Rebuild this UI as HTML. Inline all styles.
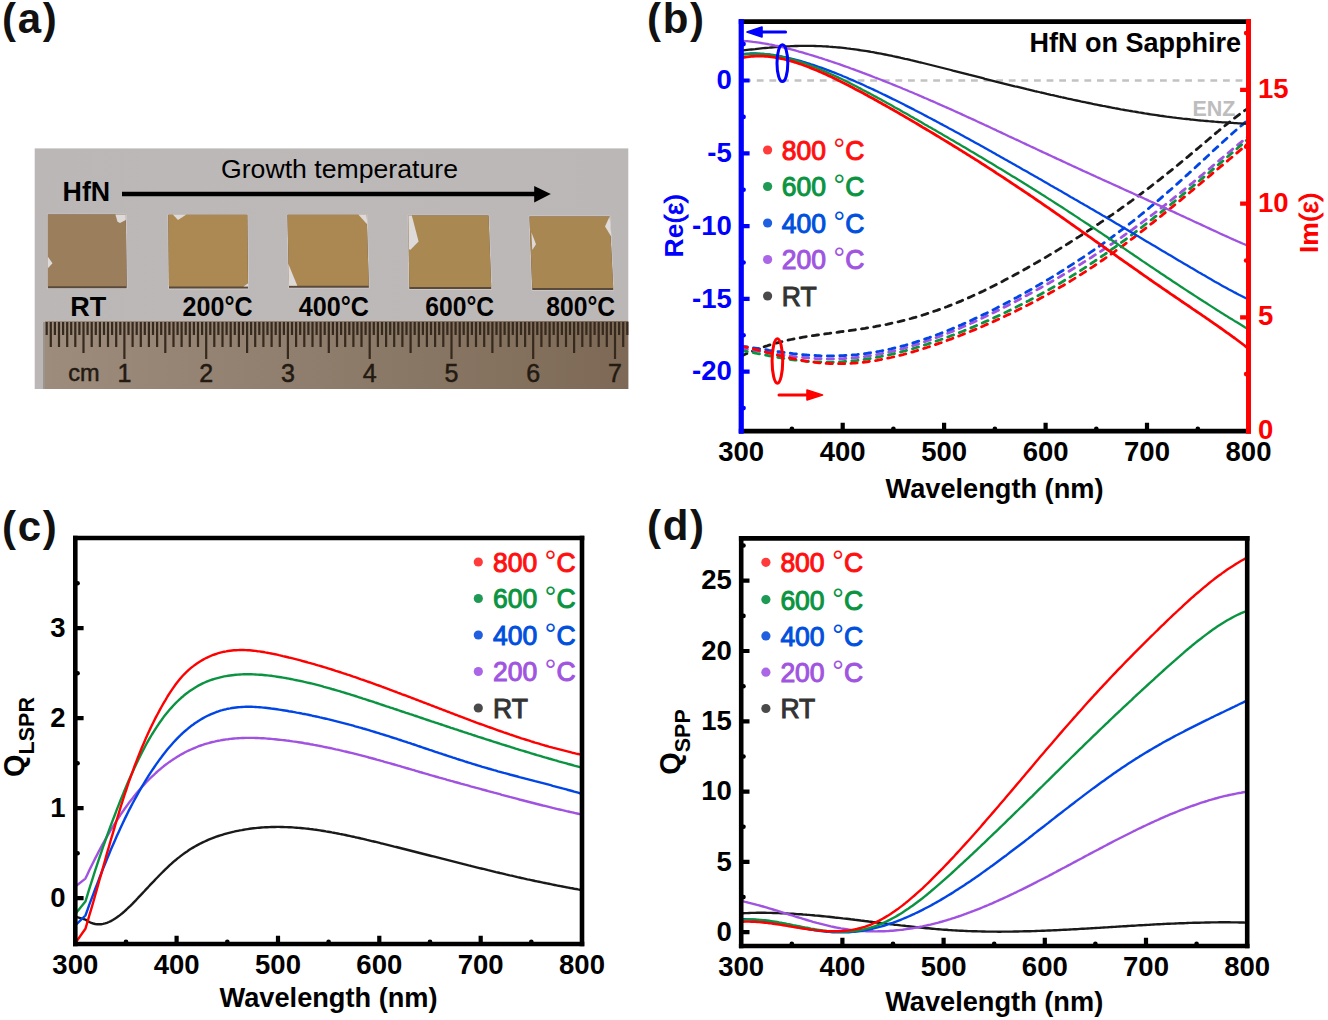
<!DOCTYPE html><html><head><meta charset="utf-8"><style>html,body{margin:0;padding:0;background:#fff;width:1328px;height:1020px;overflow:hidden}svg{display:block}text{font-family:"Liberation Sans",sans-serif}</style></head><body>
<svg width="1328" height="1020" viewBox="0 0 1328 1020">
<rect width="1328" height="1020" fill="#fff"/>
<text x="2" y="33" font-size="42" fill="#111" font-weight="bold" text-anchor="start" letter-spacing="1.7">(a)</text>
<text x="647" y="33" font-size="42" fill="#111" font-weight="bold" text-anchor="start" letter-spacing="1.7">(b)</text>
<text x="2" y="540.5" font-size="42" fill="#111" font-weight="bold" text-anchor="start" letter-spacing="1.7">(c)</text>
<text x="647" y="540" font-size="42" fill="#111" font-weight="bold" text-anchor="start" letter-spacing="1.7">(d)</text>
<defs><linearGradient id="bg" x1="0" y1="0" x2="1" y2="0"><stop offset="0" stop-color="#bcb7b7"/><stop offset="0.5" stop-color="#beb9b9"/><stop offset="1" stop-color="#bcb7b7"/></linearGradient>
<linearGradient id="rul" x1="0" y1="0" x2="1" y2="0"><stop offset="0" stop-color="#9d8c7c"/><stop offset="0.45" stop-color="#8f7e6d"/><stop offset="1" stop-color="#7d6955"/></linearGradient></defs>
<rect x="34.7" y="148.4" width="593.6" height="240.6" fill="url(#bg)"/>
<rect x="45" y="321" width="583.3" height="68" fill="url(#rul)"/>
<line x1="44" y1="322" x2="44" y2="389" stroke="#9b948f" stroke-width="2"/>
<path d="M46.7 322 V335 M50.8 322 V347 M54.9 322 V335 M59 322 V347 M63.1 322 V335 M67.2 322 V347 M71.2 322 V335 M75.3 322 V347 M79.4 322 V335 M83.5 322 V353 M87.6 322 V335 M91.7 322 V347 M95.8 322 V335 M99.9 322 V347 M104 322 V335 M108 322 V347 M112.1 322 V335 M116.2 322 V347 M120.3 322 V335 M124.4 322 V359 M128.5 322 V335 M132.6 322 V347 M136.7 322 V335 M140.8 322 V347 M144.8 322 V335 M148.9 322 V347 M153 322 V335 M157.1 322 V347 M161.2 322 V335 M165.3 322 V353 M169.4 322 V335 M173.5 322 V347 M177.6 322 V335 M181.6 322 V347 M185.7 322 V335 M189.8 322 V347 M193.9 322 V335 M198 322 V347 M202.1 322 V335 M206.2 322 V359 M210.3 322 V335 M214.3 322 V347 M218.4 322 V335 M222.5 322 V347 M226.6 322 V335 M230.7 322 V347 M234.8 322 V335 M238.9 322 V347 M243 322 V335 M247.1 322 V353 M251.1 322 V335 M255.2 322 V347 M259.3 322 V335 M263.4 322 V347 M267.5 322 V335 M271.6 322 V347 M275.7 322 V335 M279.8 322 V347 M283.9 322 V335 M287.9 322 V359 M292 322 V335 M296.1 322 V347 M300.2 322 V335 M304.3 322 V347 M308.4 322 V335 M312.5 322 V347 M316.6 322 V335 M320.6 322 V347 M324.7 322 V335 M328.8 322 V353 M332.9 322 V335 M337 322 V347 M341.1 322 V335 M345.2 322 V347 M349.3 322 V335 M353.4 322 V347 M357.4 322 V335 M361.5 322 V347 M365.6 322 V335 M369.7 322 V359 M373.8 322 V335 M377.9 322 V347 M382 322 V335 M386.1 322 V347 M390.2 322 V335 M394.2 322 V347 M398.3 322 V335 M402.4 322 V347 M406.5 322 V335 M410.6 322 V353 M414.7 322 V335 M418.8 322 V347 M422.9 322 V335 M426.9 322 V347 M431 322 V335 M435.1 322 V347 M439.2 322 V335 M443.3 322 V347 M447.4 322 V335 M451.5 322 V359 M455.6 322 V335 M459.7 322 V347 M463.7 322 V335 M467.8 322 V347 M471.9 322 V335 M476 322 V347 M480.1 322 V335 M484.2 322 V347 M488.3 322 V335 M492.4 322 V353 M496.5 322 V335 M500.5 322 V347 M504.6 322 V335 M508.7 322 V347 M512.8 322 V335 M516.9 322 V347 M521 322 V335 M525.1 322 V347 M529.2 322 V335 M533.2 322 V359 M537.3 322 V335 M541.4 322 V347 M545.5 322 V335 M549.6 322 V347 M553.7 322 V335 M557.8 322 V347 M561.9 322 V335 M566 322 V347 M570 322 V335 M574.1 322 V353 M578.2 322 V335 M582.3 322 V347 M586.4 322 V335 M590.5 322 V347 M594.6 322 V335 M598.7 322 V347 M602.8 322 V335 M606.8 322 V347 M610.9 322 V335 M615 322 V359 M619.1 322 V335 M623.2 322 V347 M627.3 322 V335" stroke="#36291d" stroke-width="2.2" fill="none"/>
<text x="124.4" y="382" font-size="25" fill="#231a12" font-weight="normal" text-anchor="middle" stroke="#231a12" stroke-width="0.5">1</text>
<text x="206.2" y="382" font-size="25" fill="#231a12" font-weight="normal" text-anchor="middle" stroke="#231a12" stroke-width="0.5">2</text>
<text x="287.9" y="382" font-size="25" fill="#231a12" font-weight="normal" text-anchor="middle" stroke="#231a12" stroke-width="0.5">3</text>
<text x="369.7" y="382" font-size="25" fill="#231a12" font-weight="normal" text-anchor="middle" stroke="#231a12" stroke-width="0.5">4</text>
<text x="451.5" y="382" font-size="25" fill="#231a12" font-weight="normal" text-anchor="middle" stroke="#231a12" stroke-width="0.5">5</text>
<text x="533.2" y="382" font-size="25" fill="#231a12" font-weight="normal" text-anchor="middle" stroke="#231a12" stroke-width="0.5">6</text>
<text x="615" y="382" font-size="25" fill="#231a12" font-weight="normal" text-anchor="middle" stroke="#231a12" stroke-width="0.5">7</text>
<text x="84" y="381" font-size="23.5" fill="#231a12" font-weight="normal" text-anchor="middle" stroke="#231a12" stroke-width="0.5">cm</text>
<polygon points="47.9,214.6 125.8,214.6 126.7,288.3 47.9,288.3" fill="#d0cbc9" stroke="#d0cbc9" stroke-width="1.6" stroke-linejoin="round"/>
<polygon points="47.9,214.6 125.8,214.6 126.7,288.3 47.9,288.3" fill="#5a4a3c"/>
<polygon points="47.9,214.6 125.8,214.6 126.6,286.3 47.9,286.3" fill="#9b7e5b"/>
<polygon points="168.3,214.8 247.3,214.8 248.1,288.6 169,288.6" fill="#d0cbc9" stroke="#d0cbc9" stroke-width="1.6" stroke-linejoin="round"/>
<polygon points="168.3,214.8 247.3,214.8 248.1,288.6 169,288.6" fill="#5a4a3c"/>
<polygon points="168.3,214.8 247.3,214.8 248,286.6 169,286.6" fill="#ac8953"/>
<polygon points="287.5,214.8 366.6,214.8 368.9,287.8 289,287.8" fill="#d0cbc9" stroke="#d0cbc9" stroke-width="1.6" stroke-linejoin="round"/>
<polygon points="287.5,214.8 366.6,214.8 368.9,287.8 289,287.8" fill="#5a4a3c"/>
<polygon points="287.5,214.8 366.6,214.8 368.8,285.8 289,285.8" fill="#ab8852"/>
<polygon points="408.4,215.5 488.5,215.5 491.3,289 409.3,289" fill="#d0cbc9" stroke="#d0cbc9" stroke-width="1.6" stroke-linejoin="round"/>
<polygon points="408.4,215.5 488.5,215.5 491.3,289 409.3,289" fill="#5a4a3c"/>
<polygon points="408.4,215.5 488.5,215.5 491.2,287 409.3,287" fill="#aa8852"/>
<polygon points="529.5,216.4 609.6,216.4 613.3,290 532.3,290" fill="#d0cbc9" stroke="#d0cbc9" stroke-width="1.6" stroke-linejoin="round"/>
<polygon points="529.5,216.4 609.6,216.4 613.3,290 532.3,290" fill="#5a4a3c"/>
<polygon points="529.5,216.4 609.6,216.4 613.2,288 532.3,288" fill="#a98753"/>
<path d="M115.4 214.6 L125.8 214.6 L125.8 220 L120 222.9 L117.5 221.7 Z" fill="#dedad9"/>
<path d="M47.9 256.7 L52.5 263.3 L47.9 268.3 Z" fill="#dedad9"/>
<path d="M168.3 214.6 L172.8 214.6 L178 220 L186.4 214.6 Z" fill="#dedad9"/>
<path d="M243.5 286.6 L248.1 283.3 L248.1 286.6 Z" fill="#dedad9"/>
<path d="M358.3 214.6 L366.6 214.6 L367.3 224.6 Z" fill="#dedad9"/>
<path d="M288.3 263.7 L297.3 285.8 L289 285.8 Z" fill="#dedad9"/>
<path d="M408.4 215.5 L411.8 215.5 L418.6 241.5 L410.2 249.9 L409 249 Z" fill="#dedad9"/>
<path d="M531.4 232.2 L536 244.3 L532.3 249.9 Z" fill="#dedad9"/>
<path d="M609.6 216.6 L605 226.6 L611.5 236.9 Z" fill="#dedad9"/>
<text x="62.6" y="201" font-size="27" fill="#000" font-weight="bold" text-anchor="start" textLength="47.6" lengthAdjust="spacingAndGlyphs">HfN</text>
<text x="221" y="178" font-size="25.5" fill="#000" font-weight="normal" text-anchor="start" textLength="237" lengthAdjust="spacingAndGlyphs">Growth temperature</text>
<line x1="122" y1="194" x2="536" y2="194" stroke="#000" stroke-width="4.6"/>
<path d="M534.2 186 L550.8 194 L534.2 202.5 Z" fill="#000"/>
<text x="70.3" y="316" font-size="28" fill="#000" font-weight="bold" text-anchor="start" textLength="36" lengthAdjust="spacingAndGlyphs">RT</text>
<text x="182.6" y="316" font-size="28" fill="#000" font-weight="bold" text-anchor="start" textLength="70" lengthAdjust="spacingAndGlyphs">200°C</text>
<text x="298.8" y="316" font-size="28" fill="#000" font-weight="bold" text-anchor="start" textLength="70.1" lengthAdjust="spacingAndGlyphs">400°C</text>
<text x="425.2" y="316" font-size="28" fill="#000" font-weight="bold" text-anchor="start" textLength="68.9" lengthAdjust="spacingAndGlyphs">600°C</text>
<text x="546.3" y="316" font-size="28" fill="#000" font-weight="bold" text-anchor="start" textLength="68.9" lengthAdjust="spacingAndGlyphs">800°C</text>
<clipPath id="cb"><rect x="741.2" y="21.7" width="507.3" height="409.5"/></clipPath>
<line x1="744.2" y1="80.5" x2="1245.5" y2="80.5" stroke="#c2c2c2" stroke-width="2.6" stroke-dasharray="6.8 5.8"/>
<text x="1235.5" y="115.8" font-size="21.5" fill="#bdbdbd" font-weight="bold" text-anchor="end" >ENZ</text>
<text x="1241" y="51.9" font-size="27" fill="#000" font-weight="bold" text-anchor="end" >HfN on Sapphire</text>
<g clip-path="url(#cb)" fill="none" stroke-linejoin="round">
<path d="M741.2 356.2 L743.2 355.2 L745.2 354.3 L747.2 353.4 L749.2 352.5 L751.2 351.7 L753.2 350.8 L755.2 350 L757.2 349.3 L759.2 348.5 L761.2 347.8 L763.2 347.1 L765.2 346.4 L767.2 345.8 L769.2 345.1 L771.2 344.5 L773.2 343.9 L775.2 343.4 L777.2 342.8 L779.1 342.3 L781.1 341.8 L783.1 341.3 L785.1 340.8 L787.1 340.4 L789.1 339.9 L791.1 339.5 L793.1 339.1 L795.1 338.7 L797.1 338.3 L799.1 337.9 L801.1 337.6 L803.1 337.2 L805.1 336.9 L807.1 336.6 L809.1 336.2 L811.1 335.9 L813.1 335.6 L815.1 335.3 L817.1 335 L819.1 334.7 L821.1 334.5 L823.1 334.2 L825.1 333.9 L827.1 333.6 L829.1 333.4 L831.1 333.1 L833.1 332.8 L835.1 332.5 L837.1 332.3 L839.1 332 L841.1 331.7 L843.1 331.5 L845.1 331.2 L847.1 330.9 L849.1 330.7 L851 330.4 L853 330.1 L855 329.8 L857 329.5 L859 329.2 L861 328.9 L863 328.6 L865 328.3 L867 327.9 L869 327.6 L871 327.3 L873 326.9 L875 326.6 L877 326.2 L879 325.8 L881 325.5 L883 325.1 L885 324.7 L887 324.3 L889 323.8 L891 323.4 L893 323 L895 322.5 L897 322 L899 321.6 L901 321.1 L903 320.6 L905 320.1 L907 319.6 L909 319 L911 318.5 L913 317.9 L915 317.4 L917 316.8 L919 316.2 L921 315.6 L922.9 315 L924.9 314.4 L926.9 313.7 L928.9 313.1 L930.9 312.4 L932.9 311.7 L934.9 311 L936.9 310.4 L938.9 309.6 L940.9 308.9 L942.9 308.2 L944.9 307.4 L946.9 306.7 L948.9 305.9 L950.9 305.1 L952.9 304.3 L954.9 303.5 L956.9 302.7 L958.9 301.9 L960.9 301.1 L962.9 300.2 L964.9 299.3 L966.9 298.5 L968.9 297.6 L970.9 296.7 L972.9 295.8 L974.9 294.9 L976.9 294 L978.9 293 L980.9 292.1 L982.9 291.2 L984.9 290.2 L986.9 289.2 L988.9 288.3 L990.9 287.3 L992.9 286.3 L994.9 285.3 L996.8 284.3 L998.8 283.2 L1000.8 282.2 L1002.8 281.2 L1004.8 280.1 L1006.8 279.1 L1008.8 278 L1010.8 276.9 L1012.8 275.9 L1014.8 274.8 L1016.8 273.7 L1018.8 272.6 L1020.8 271.5 L1022.8 270.4 L1024.8 269.3 L1026.8 268.2 L1028.8 267 L1030.8 265.9 L1032.8 264.7 L1034.8 263.6 L1036.8 262.4 L1038.8 261.3 L1040.8 260.1 L1042.8 258.9 L1044.8 257.8 L1046.8 256.6 L1048.8 255.4 L1050.8 254.2 L1052.8 253 L1054.8 251.8 L1056.8 250.6 L1058.8 249.4 L1060.8 248.1 L1062.8 246.9 L1064.8 245.7 L1066.8 244.4 L1068.7 243.2 L1070.7 241.9 L1072.7 240.7 L1074.7 239.4 L1076.7 238.1 L1078.7 236.9 L1080.7 235.6 L1082.7 234.3 L1084.7 233 L1086.7 231.7 L1088.7 230.4 L1090.7 229.1 L1092.7 227.8 L1094.7 226.5 L1096.7 225.1 L1098.7 223.8 L1100.7 222.4 L1102.7 221.1 L1104.7 219.7 L1106.7 218.4 L1108.7 217 L1110.7 215.6 L1112.7 214.3 L1114.7 212.9 L1116.7 211.5 L1118.7 210.1 L1120.7 208.7 L1122.7 207.2 L1124.7 205.8 L1126.7 204.4 L1128.7 202.9 L1130.7 201.5 L1132.7 200 L1134.7 198.6 L1136.7 197.1 L1138.7 195.6 L1140.6 194.1 L1142.6 192.6 L1144.6 191.1 L1146.6 189.6 L1148.6 188.1 L1150.6 186.6 L1152.6 185 L1154.6 183.5 L1156.6 181.9 L1158.6 180.4 L1160.6 178.8 L1162.6 177.2 L1164.6 175.6 L1166.6 174 L1168.6 172.4 L1170.6 170.8 L1172.6 169.2 L1174.6 167.6 L1176.6 166 L1178.6 164.3 L1180.6 162.7 L1182.6 161 L1184.6 159.4 L1186.6 157.7 L1188.6 156.1 L1190.6 154.4 L1192.6 152.7 L1194.6 151.1 L1196.6 149.4 L1198.6 147.7 L1200.6 146 L1202.6 144.3 L1204.6 142.7 L1206.6 141 L1208.6 139.3 L1210.6 137.6 L1212.5 136 L1214.5 134.3 L1216.5 132.6 L1218.5 131 L1220.5 129.3 L1222.5 127.7 L1224.5 126.1 L1226.5 124.4 L1228.5 122.8 L1230.5 121.3 L1232.5 119.7 L1234.5 118.1 L1236.5 116.6 L1238.5 115.1 L1240.5 113.6 L1242.5 112.1 L1244.5 110.7 L1246.5 109.3 L1248.5 107.9" stroke="#1a1a1a" stroke-width="2.8" stroke-dasharray="6.2 6.2" stroke-linecap="round"/>
<path d="M741.2 348.5 L743.2 348.7 L745.2 349 L747.2 349.3 L749.2 349.6 L751.2 349.9 L753.2 350.2 L755.2 350.5 L757.2 350.8 L759.2 351.2 L761.2 351.5 L763.2 351.8 L765.2 352.2 L767.2 352.5 L769.2 352.8 L771.2 353.1 L773.2 353.5 L775.2 353.8 L777.2 354.1 L779.1 354.4 L781.1 354.7 L783.1 355 L785.1 355.3 L787.1 355.6 L789.1 355.9 L791.1 356.1 L793.1 356.4 L795.1 356.6 L797.1 356.9 L799.1 357.1 L801.1 357.3 L803.1 357.5 L805.1 357.7 L807.1 357.9 L809.1 358 L811.1 358.2 L813.1 358.3 L815.1 358.5 L817.1 358.6 L819.1 358.7 L821.1 358.7 L823.1 358.8 L825.1 358.8 L827.1 358.9 L829.1 358.9 L831.1 358.9 L833.1 358.9 L835.1 358.9 L837.1 358.8 L839.1 358.8 L841.1 358.7 L843.1 358.6 L845.1 358.5 L847.1 358.4 L849.1 358.2 L851 358.1 L853 357.9 L855 357.7 L857 357.5 L859 357.3 L861 357 L863 356.8 L865 356.5 L867 356.2 L869 355.9 L871 355.6 L873 355.3 L875 354.9 L877 354.6 L879 354.2 L881 353.8 L883 353.4 L885 353 L887 352.6 L889 352.1 L891 351.6 L893 351.2 L895 350.7 L897 350.2 L899 349.6 L901 349.1 L903 348.6 L905 348 L907 347.4 L909 346.8 L911 346.2 L913 345.6 L915 345 L917 344.4 L919 343.7 L921 343.1 L922.9 342.4 L924.9 341.7 L926.9 341 L928.9 340.3 L930.9 339.6 L932.9 338.9 L934.9 338.1 L936.9 337.4 L938.9 336.6 L940.9 335.9 L942.9 335.1 L944.9 334.3 L946.9 333.5 L948.9 332.7 L950.9 331.9 L952.9 331.1 L954.9 330.2 L956.9 329.4 L958.9 328.6 L960.9 327.7 L962.9 326.8 L964.9 326 L966.9 325.1 L968.9 324.2 L970.9 323.3 L972.9 322.4 L974.9 321.5 L976.9 320.5 L978.9 319.6 L980.9 318.7 L982.9 317.7 L984.9 316.8 L986.9 315.8 L988.9 314.9 L990.9 313.9 L992.9 312.9 L994.9 312 L996.8 311 L998.8 310 L1000.8 309 L1002.8 308 L1004.8 306.9 L1006.8 305.9 L1008.8 304.9 L1010.8 303.9 L1012.8 302.8 L1014.8 301.8 L1016.8 300.7 L1018.8 299.7 L1020.8 298.6 L1022.8 297.6 L1024.8 296.5 L1026.8 295.4 L1028.8 294.3 L1030.8 293.2 L1032.8 292.1 L1034.8 291 L1036.8 289.9 L1038.8 288.8 L1040.8 287.7 L1042.8 286.6 L1044.8 285.4 L1046.8 284.3 L1048.8 283.2 L1050.8 282 L1052.8 280.9 L1054.8 279.7 L1056.8 278.5 L1058.8 277.4 L1060.8 276.2 L1062.8 275 L1064.8 273.8 L1066.8 272.6 L1068.7 271.4 L1070.7 270.2 L1072.7 269 L1074.7 267.8 L1076.7 266.5 L1078.7 265.3 L1080.7 264.1 L1082.7 262.8 L1084.7 261.6 L1086.7 260.3 L1088.7 259 L1090.7 257.8 L1092.7 256.5 L1094.7 255.2 L1096.7 253.9 L1098.7 252.6 L1100.7 251.3 L1102.7 250 L1104.7 248.6 L1106.7 247.3 L1108.7 246 L1110.7 244.6 L1112.7 243.3 L1114.7 241.9 L1116.7 240.5 L1118.7 239.1 L1120.7 237.8 L1122.7 236.4 L1124.7 235 L1126.7 233.5 L1128.7 232.1 L1130.7 230.7 L1132.7 229.3 L1134.7 227.8 L1136.7 226.4 L1138.7 224.9 L1140.6 223.5 L1142.6 222 L1144.6 220.5 L1146.6 219 L1148.6 217.5 L1150.6 216 L1152.6 214.5 L1154.6 213 L1156.6 211.5 L1158.6 209.9 L1160.6 208.4 L1162.6 206.8 L1164.6 205.3 L1166.6 203.7 L1168.6 202.1 L1170.6 200.6 L1172.6 199 L1174.6 197.4 L1176.6 195.8 L1178.6 194.2 L1180.6 192.6 L1182.6 190.9 L1184.6 189.3 L1186.6 187.7 L1188.6 186.1 L1190.6 184.4 L1192.6 182.8 L1194.6 181.1 L1196.6 179.5 L1198.6 177.8 L1200.6 176.1 L1202.6 174.5 L1204.6 172.8 L1206.6 171.1 L1208.6 169.5 L1210.6 167.8 L1212.5 166.1 L1214.5 164.4 L1216.5 162.7 L1218.5 161.1 L1220.5 159.4 L1222.5 157.7 L1224.5 156 L1226.5 154.3 L1228.5 152.7 L1230.5 151 L1232.5 149.3 L1234.5 147.6 L1236.5 146 L1238.5 144.3 L1240.5 142.7 L1242.5 141 L1244.5 139.4 L1246.5 137.8 L1248.5 136.2" stroke="#a052e0" stroke-width="2.8" stroke-dasharray="6.2 6.2" stroke-linecap="round"/>
<path d="M741.2 346.1 L743.2 346.4 L745.2 346.6 L747.2 346.9 L749.2 347.2 L751.2 347.5 L753.2 347.8 L755.2 348.1 L757.2 348.4 L759.2 348.7 L761.2 349 L763.2 349.3 L765.2 349.6 L767.2 349.9 L769.2 350.3 L771.2 350.6 L773.2 350.9 L775.2 351.2 L777.2 351.5 L779.1 351.7 L781.1 352 L783.1 352.3 L785.1 352.6 L787.1 352.8 L789.1 353.1 L791.1 353.3 L793.1 353.6 L795.1 353.8 L797.1 354 L799.1 354.2 L801.1 354.4 L803.1 354.6 L805.1 354.8 L807.1 355 L809.1 355.1 L811.1 355.2 L813.1 355.4 L815.1 355.5 L817.1 355.6 L819.1 355.7 L821.1 355.8 L823.1 355.8 L825.1 355.9 L827.1 355.9 L829.1 355.9 L831.1 355.9 L833.1 355.9 L835.1 355.9 L837.1 355.8 L839.1 355.8 L841.1 355.7 L843.1 355.6 L845.1 355.5 L847.1 355.4 L849.1 355.2 L851 355.1 L853 354.9 L855 354.8 L857 354.6 L859 354.3 L861 354.1 L863 353.9 L865 353.6 L867 353.3 L869 353 L871 352.7 L873 352.4 L875 352.1 L877 351.7 L879 351.4 L881 351 L883 350.6 L885 350.2 L887 349.8 L889 349.3 L891 348.9 L893 348.4 L895 347.9 L897 347.4 L899 346.9 L901 346.4 L903 345.8 L905 345.3 L907 344.7 L909 344.1 L911 343.6 L913 342.9 L915 342.3 L917 341.7 L919 341.1 L921 340.4 L922.9 339.7 L924.9 339.1 L926.9 338.4 L928.9 337.7 L930.9 336.9 L932.9 336.2 L934.9 335.5 L936.9 334.7 L938.9 334 L940.9 333.2 L942.9 332.4 L944.9 331.6 L946.9 330.8 L948.9 330 L950.9 329.2 L952.9 328.4 L954.9 327.5 L956.9 326.7 L958.9 325.8 L960.9 325 L962.9 324.1 L964.9 323.2 L966.9 322.3 L968.9 321.4 L970.9 320.5 L972.9 319.6 L974.9 318.6 L976.9 317.7 L978.9 316.8 L980.9 315.8 L982.9 314.8 L984.9 313.9 L986.9 312.9 L988.9 311.9 L990.9 310.9 L992.9 309.9 L994.9 308.9 L996.8 307.9 L998.8 306.9 L1000.8 305.8 L1002.8 304.8 L1004.8 303.8 L1006.8 302.7 L1008.8 301.7 L1010.8 300.6 L1012.8 299.5 L1014.8 298.4 L1016.8 297.4 L1018.8 296.3 L1020.8 295.2 L1022.8 294.1 L1024.8 293 L1026.8 291.8 L1028.8 290.7 L1030.8 289.6 L1032.8 288.4 L1034.8 287.3 L1036.8 286.1 L1038.8 285 L1040.8 283.8 L1042.8 282.6 L1044.8 281.5 L1046.8 280.3 L1048.8 279.1 L1050.8 277.9 L1052.8 276.7 L1054.8 275.4 L1056.8 274.2 L1058.8 273 L1060.8 271.7 L1062.8 270.5 L1064.8 269.2 L1066.8 268 L1068.7 266.7 L1070.7 265.4 L1072.7 264.1 L1074.7 262.8 L1076.7 261.5 L1078.7 260.2 L1080.7 258.9 L1082.7 257.6 L1084.7 256.2 L1086.7 254.9 L1088.7 253.5 L1090.7 252.2 L1092.7 250.8 L1094.7 249.4 L1096.7 248 L1098.7 246.6 L1100.7 245.2 L1102.7 243.8 L1104.7 242.4 L1106.7 241 L1108.7 239.5 L1110.7 238.1 L1112.7 236.6 L1114.7 235.1 L1116.7 233.6 L1118.7 232.1 L1120.7 230.6 L1122.7 229.1 L1124.7 227.6 L1126.7 226 L1128.7 224.5 L1130.7 222.9 L1132.7 221.4 L1134.7 219.8 L1136.7 218.2 L1138.7 216.6 L1140.6 215 L1142.6 213.4 L1144.6 211.8 L1146.6 210.1 L1148.6 208.5 L1150.6 206.8 L1152.6 205.1 L1154.6 203.5 L1156.6 201.8 L1158.6 200.1 L1160.6 198.4 L1162.6 196.6 L1164.6 194.9 L1166.6 193.2 L1168.6 191.4 L1170.6 189.7 L1172.6 187.9 L1174.6 186.2 L1176.6 184.4 L1178.6 182.6 L1180.6 180.8 L1182.6 179 L1184.6 177.2 L1186.6 175.4 L1188.6 173.6 L1190.6 171.7 L1192.6 169.9 L1194.6 168.1 L1196.6 166.2 L1198.6 164.4 L1200.6 162.6 L1202.6 160.7 L1204.6 158.9 L1206.6 157 L1208.6 155.2 L1210.6 153.3 L1212.5 151.5 L1214.5 149.6 L1216.5 147.8 L1218.5 146 L1220.5 144.1 L1222.5 142.3 L1224.5 140.5 L1226.5 138.7 L1228.5 136.9 L1230.5 135.1 L1232.5 133.3 L1234.5 131.5 L1236.5 129.8 L1238.5 128 L1240.5 126.3 L1242.5 124.6 L1244.5 122.9 L1246.5 121.2 L1248.5 119.6" stroke="#0045e6" stroke-width="2.8" stroke-dasharray="6.2 6.2" stroke-linecap="round"/>
<path d="M741.2 350.5 L743.2 350.9 L745.2 351.2 L747.2 351.6 L749.2 352 L751.2 352.3 L753.2 352.7 L755.2 353.1 L757.2 353.5 L759.2 353.9 L761.2 354.3 L763.2 354.7 L765.2 355.1 L767.2 355.4 L769.2 355.8 L771.2 356.2 L773.2 356.6 L775.2 356.9 L777.2 357.3 L779.1 357.6 L781.1 358 L783.1 358.3 L785.1 358.6 L787.1 358.9 L789.1 359.2 L791.1 359.5 L793.1 359.8 L795.1 360 L797.1 360.3 L799.1 360.5 L801.1 360.7 L803.1 360.9 L805.1 361.1 L807.1 361.3 L809.1 361.4 L811.1 361.6 L813.1 361.7 L815.1 361.8 L817.1 361.9 L819.1 362 L821.1 362 L823.1 362.1 L825.1 362.1 L827.1 362.1 L829.1 362.1 L831.1 362.1 L833.1 362.1 L835.1 362 L837.1 361.9 L839.1 361.9 L841.1 361.8 L843.1 361.6 L845.1 361.5 L847.1 361.4 L849.1 361.2 L851 361 L853 360.8 L855 360.6 L857 360.4 L859 360.1 L861 359.9 L863 359.6 L865 359.3 L867 359 L869 358.7 L871 358.4 L873 358 L875 357.7 L877 357.3 L879 356.9 L881 356.5 L883 356.1 L885 355.7 L887 355.3 L889 354.8 L891 354.4 L893 353.9 L895 353.4 L897 352.9 L899 352.4 L901 351.9 L903 351.4 L905 350.9 L907 350.3 L909 349.7 L911 349.2 L913 348.6 L915 348 L917 347.4 L919 346.8 L921 346.2 L922.9 345.6 L924.9 344.9 L926.9 344.3 L928.9 343.6 L930.9 343 L932.9 342.3 L934.9 341.6 L936.9 340.9 L938.9 340.2 L940.9 339.5 L942.9 338.8 L944.9 338.1 L946.9 337.3 L948.9 336.6 L950.9 335.8 L952.9 335.1 L954.9 334.3 L956.9 333.5 L958.9 332.8 L960.9 332 L962.9 331.2 L964.9 330.4 L966.9 329.6 L968.9 328.8 L970.9 327.9 L972.9 327.1 L974.9 326.2 L976.9 325.4 L978.9 324.5 L980.9 323.7 L982.9 322.8 L984.9 321.9 L986.9 321 L988.9 320.2 L990.9 319.3 L992.9 318.3 L994.9 317.4 L996.8 316.5 L998.8 315.6 L1000.8 314.6 L1002.8 313.7 L1004.8 312.7 L1006.8 311.8 L1008.8 310.8 L1010.8 309.8 L1012.8 308.8 L1014.8 307.8 L1016.8 306.8 L1018.8 305.8 L1020.8 304.8 L1022.8 303.8 L1024.8 302.8 L1026.8 301.7 L1028.8 300.7 L1030.8 299.6 L1032.8 298.5 L1034.8 297.5 L1036.8 296.4 L1038.8 295.3 L1040.8 294.2 L1042.8 293.1 L1044.8 292 L1046.8 290.8 L1048.8 289.7 L1050.8 288.6 L1052.8 287.4 L1054.8 286.3 L1056.8 285.1 L1058.8 283.9 L1060.8 282.7 L1062.8 281.5 L1064.8 280.3 L1066.8 279.1 L1068.7 277.9 L1070.7 276.7 L1072.7 275.4 L1074.7 274.2 L1076.7 272.9 L1078.7 271.6 L1080.7 270.4 L1082.7 269.1 L1084.7 267.8 L1086.7 266.5 L1088.7 265.2 L1090.7 263.8 L1092.7 262.5 L1094.7 261.2 L1096.7 259.8 L1098.7 258.5 L1100.7 257.1 L1102.7 255.7 L1104.7 254.4 L1106.7 253 L1108.7 251.6 L1110.7 250.2 L1112.7 248.7 L1114.7 247.3 L1116.7 245.9 L1118.7 244.4 L1120.7 243 L1122.7 241.5 L1124.7 240.1 L1126.7 238.6 L1128.7 237.1 L1130.7 235.6 L1132.7 234.1 L1134.7 232.6 L1136.7 231.1 L1138.7 229.6 L1140.6 228.1 L1142.6 226.6 L1144.6 225 L1146.6 223.5 L1148.6 221.9 L1150.6 220.4 L1152.6 218.8 L1154.6 217.2 L1156.6 215.7 L1158.6 214.1 L1160.6 212.5 L1162.6 210.9 L1164.6 209.3 L1166.6 207.7 L1168.6 206.1 L1170.6 204.5 L1172.6 202.9 L1174.6 201.3 L1176.6 199.6 L1178.6 198 L1180.6 196.4 L1182.6 194.7 L1184.6 193.1 L1186.6 191.4 L1188.6 189.8 L1190.6 188.1 L1192.6 186.5 L1194.6 184.8 L1196.6 183.1 L1198.6 181.5 L1200.6 179.8 L1202.6 178.1 L1204.6 176.4 L1206.6 174.7 L1208.6 173.1 L1210.6 171.4 L1212.5 169.7 L1214.5 168 L1216.5 166.3 L1218.5 164.6 L1220.5 162.9 L1222.5 161.2 L1224.5 159.4 L1226.5 157.7 L1228.5 156 L1230.5 154.3 L1232.5 152.6 L1234.5 150.8 L1236.5 149.1 L1238.5 147.3 L1240.5 145.6 L1242.5 143.8 L1244.5 142.1 L1246.5 140.3 L1248.5 138.5" stroke="#0a9441" stroke-width="2.8" stroke-dasharray="6.2 6.2" stroke-linecap="round"/>
<path d="M741.2 346.3 L743.2 346.6 L745.2 347 L747.2 347.4 L749.2 347.9 L751.2 348.3 L753.2 348.8 L755.2 349.3 L757.2 349.8 L759.2 350.3 L761.2 350.8 L763.2 351.3 L765.2 351.9 L767.2 352.4 L769.2 352.9 L771.2 353.4 L773.2 354 L775.2 354.5 L777.2 355 L779.1 355.5 L781.1 356 L783.1 356.5 L785.1 356.9 L787.1 357.4 L789.1 357.9 L791.1 358.3 L793.1 358.7 L795.1 359.1 L797.1 359.5 L799.1 359.9 L801.1 360.3 L803.1 360.6 L805.1 361 L807.1 361.3 L809.1 361.6 L811.1 361.9 L813.1 362.1 L815.1 362.4 L817.1 362.6 L819.1 362.8 L821.1 363 L823.1 363.1 L825.1 363.3 L827.1 363.4 L829.1 363.5 L831.1 363.6 L833.1 363.7 L835.1 363.7 L837.1 363.7 L839.1 363.7 L841.1 363.7 L843.1 363.7 L845.1 363.6 L847.1 363.5 L849.1 363.5 L851 363.3 L853 363.2 L855 363.1 L857 362.9 L859 362.7 L861 362.5 L863 362.3 L865 362 L867 361.8 L869 361.5 L871 361.2 L873 360.9 L875 360.6 L877 360.3 L879 359.9 L881 359.5 L883 359.2 L885 358.8 L887 358.3 L889 357.9 L891 357.5 L893 357 L895 356.6 L897 356.1 L899 355.6 L901 355.1 L903 354.6 L905 354 L907 353.5 L909 352.9 L911 352.4 L913 351.8 L915 351.2 L917 350.6 L919 350 L921 349.4 L922.9 348.8 L924.9 348.1 L926.9 347.5 L928.9 346.8 L930.9 346.2 L932.9 345.5 L934.9 344.8 L936.9 344.1 L938.9 343.4 L940.9 342.7 L942.9 342 L944.9 341.3 L946.9 340.5 L948.9 339.8 L950.9 339.1 L952.9 338.3 L954.9 337.6 L956.9 336.8 L958.9 336 L960.9 335.2 L962.9 334.4 L964.9 333.6 L966.9 332.8 L968.9 332 L970.9 331.2 L972.9 330.4 L974.9 329.6 L976.9 328.7 L978.9 327.9 L980.9 327 L982.9 326.2 L984.9 325.3 L986.9 324.4 L988.9 323.6 L990.9 322.7 L992.9 321.8 L994.9 320.9 L996.8 320 L998.8 319.1 L1000.8 318.1 L1002.8 317.2 L1004.8 316.3 L1006.8 315.3 L1008.8 314.4 L1010.8 313.4 L1012.8 312.5 L1014.8 311.5 L1016.8 310.5 L1018.8 309.5 L1020.8 308.5 L1022.8 307.5 L1024.8 306.5 L1026.8 305.5 L1028.8 304.5 L1030.8 303.4 L1032.8 302.4 L1034.8 301.3 L1036.8 300.3 L1038.8 299.2 L1040.8 298.1 L1042.8 297 L1044.8 295.9 L1046.8 294.8 L1048.8 293.7 L1050.8 292.6 L1052.8 291.5 L1054.8 290.3 L1056.8 289.2 L1058.8 288 L1060.8 286.8 L1062.8 285.7 L1064.8 284.5 L1066.8 283.3 L1068.7 282.1 L1070.7 280.9 L1072.7 279.6 L1074.7 278.4 L1076.7 277.1 L1078.7 275.9 L1080.7 274.6 L1082.7 273.3 L1084.7 272.1 L1086.7 270.8 L1088.7 269.4 L1090.7 268.1 L1092.7 266.8 L1094.7 265.5 L1096.7 264.1 L1098.7 262.8 L1100.7 261.4 L1102.7 260 L1104.7 258.6 L1106.7 257.2 L1108.7 255.8 L1110.7 254.4 L1112.7 253 L1114.7 251.6 L1116.7 250.1 L1118.7 248.7 L1120.7 247.2 L1122.7 245.8 L1124.7 244.3 L1126.7 242.8 L1128.7 241.3 L1130.7 239.8 L1132.7 238.3 L1134.7 236.8 L1136.7 235.2 L1138.7 233.7 L1140.6 232.2 L1142.6 230.6 L1144.6 229.1 L1146.6 227.5 L1148.6 225.9 L1150.6 224.3 L1152.6 222.8 L1154.6 221.2 L1156.6 219.6 L1158.6 218 L1160.6 216.4 L1162.6 214.8 L1164.6 213.1 L1166.6 211.5 L1168.6 209.9 L1170.6 208.3 L1172.6 206.6 L1174.6 205 L1176.6 203.4 L1178.6 201.7 L1180.6 200.1 L1182.6 198.4 L1184.6 196.8 L1186.6 195.1 L1188.6 193.5 L1190.6 191.8 L1192.6 190.1 L1194.6 188.5 L1196.6 186.8 L1198.6 185.1 L1200.6 183.5 L1202.6 181.8 L1204.6 180.1 L1206.6 178.4 L1208.6 176.8 L1210.6 175.1 L1212.5 173.4 L1214.5 171.8 L1216.5 170.1 L1218.5 168.4 L1220.5 166.7 L1222.5 165.1 L1224.5 163.4 L1226.5 161.7 L1228.5 160 L1230.5 158.3 L1232.5 156.7 L1234.5 155 L1236.5 153.3 L1238.5 151.6 L1240.5 149.9 L1242.5 148.2 L1244.5 146.6 L1246.5 144.9 L1248.5 143.2" stroke="#ff0000" stroke-width="2.8" stroke-dasharray="6.2 6.2" stroke-linecap="round"/>
<path d="M741.2 50.5 L743.2 50.3 L745.2 50.1 L747.2 49.9 L749.2 49.7 L751.2 49.5 L753.2 49.3 L755.2 49.1 L757.2 48.8 L759.2 48.6 L761.2 48.4 L763.2 48.2 L765.2 48 L767.2 47.8 L769.2 47.7 L771.2 47.5 L773.2 47.3 L775.2 47.2 L777.2 47 L779.1 46.9 L781.1 46.7 L783.1 46.6 L785.1 46.5 L787.1 46.4 L789.1 46.3 L791.1 46.2 L793.1 46.1 L795.1 46 L797.1 46 L799.1 45.9 L801.1 45.9 L803.1 45.9 L805.1 45.9 L807.1 45.9 L809.1 45.9 L811.1 45.9 L813.1 45.9 L815.1 46 L817.1 46.1 L819.1 46.1 L821.1 46.2 L823.1 46.3 L825.1 46.4 L827.1 46.5 L829.1 46.7 L831.1 46.8 L833.1 47 L835.1 47.1 L837.1 47.3 L839.1 47.5 L841.1 47.7 L843.1 47.9 L845.1 48.1 L847.1 48.4 L849.1 48.6 L851 48.9 L853 49.1 L855 49.4 L857 49.7 L859 50 L861 50.3 L863 50.6 L865 50.9 L867 51.2 L869 51.5 L871 51.9 L873 52.2 L875 52.6 L877 53 L879 53.3 L881 53.7 L883 54.1 L885 54.5 L887 54.9 L889 55.3 L891 55.7 L893 56.2 L895 56.6 L897 57 L899 57.4 L901 57.9 L903 58.3 L905 58.8 L907 59.2 L909 59.7 L911 60.2 L913 60.6 L915 61.1 L917 61.6 L919 62.1 L921 62.5 L922.9 63 L924.9 63.5 L926.9 64 L928.9 64.5 L930.9 65 L932.9 65.5 L934.9 66 L936.9 66.5 L938.9 67 L940.9 67.5 L942.9 68 L944.9 68.5 L946.9 69 L948.9 69.5 L950.9 70 L952.9 70.6 L954.9 71.1 L956.9 71.6 L958.9 72.1 L960.9 72.6 L962.9 73.1 L964.9 73.6 L966.9 74.1 L968.9 74.7 L970.9 75.2 L972.9 75.7 L974.9 76.2 L976.9 76.7 L978.9 77.2 L980.9 77.7 L982.9 78.2 L984.9 78.8 L986.9 79.3 L988.9 79.8 L990.9 80.3 L992.9 80.8 L994.9 81.3 L996.8 81.8 L998.8 82.3 L1000.8 82.8 L1002.8 83.3 L1004.8 83.8 L1006.8 84.3 L1008.8 84.8 L1010.8 85.3 L1012.8 85.8 L1014.8 86.3 L1016.8 86.7 L1018.8 87.2 L1020.8 87.7 L1022.8 88.2 L1024.8 88.7 L1026.8 89.2 L1028.8 89.6 L1030.8 90.1 L1032.8 90.6 L1034.8 91.1 L1036.8 91.5 L1038.8 92 L1040.8 92.5 L1042.8 92.9 L1044.8 93.4 L1046.8 93.9 L1048.8 94.3 L1050.8 94.8 L1052.8 95.2 L1054.8 95.7 L1056.8 96.1 L1058.8 96.6 L1060.8 97 L1062.8 97.5 L1064.8 97.9 L1066.8 98.4 L1068.7 98.8 L1070.7 99.2 L1072.7 99.7 L1074.7 100.1 L1076.7 100.5 L1078.7 100.9 L1080.7 101.4 L1082.7 101.8 L1084.7 102.2 L1086.7 102.6 L1088.7 103 L1090.7 103.4 L1092.7 103.9 L1094.7 104.3 L1096.7 104.7 L1098.7 105.1 L1100.7 105.5 L1102.7 105.9 L1104.7 106.2 L1106.7 106.6 L1108.7 107 L1110.7 107.4 L1112.7 107.8 L1114.7 108.2 L1116.7 108.5 L1118.7 108.9 L1120.7 109.3 L1122.7 109.6 L1124.7 110 L1126.7 110.3 L1128.7 110.7 L1130.7 111 L1132.7 111.4 L1134.7 111.7 L1136.7 112 L1138.7 112.4 L1140.6 112.7 L1142.6 113 L1144.6 113.4 L1146.6 113.7 L1148.6 114 L1150.6 114.3 L1152.6 114.6 L1154.6 114.9 L1156.6 115.2 L1158.6 115.5 L1160.6 115.8 L1162.6 116 L1164.6 116.3 L1166.6 116.6 L1168.6 116.8 L1170.6 117.1 L1172.6 117.4 L1174.6 117.6 L1176.6 117.9 L1178.6 118.1 L1180.6 118.3 L1182.6 118.6 L1184.6 118.8 L1186.6 119 L1188.6 119.2 L1190.6 119.5 L1192.6 119.7 L1194.6 119.9 L1196.6 120.1 L1198.6 120.3 L1200.6 120.5 L1202.6 120.6 L1204.6 120.8 L1206.6 121 L1208.6 121.2 L1210.6 121.3 L1212.5 121.5 L1214.5 121.7 L1216.5 121.8 L1218.5 122 L1220.5 122.1 L1222.5 122.3 L1224.5 122.4 L1226.5 122.5 L1228.5 122.7 L1230.5 122.8 L1232.5 122.9 L1234.5 123.1 L1236.5 123.2 L1238.5 123.3 L1240.5 123.4 L1242.5 123.6 L1244.5 123.7 L1246.5 123.8 L1248.5 123.9" stroke="#1a1a1a" stroke-width="2.3"/>
<path d="M741.2 40.9 L743.2 41 L745.2 41.1 L747.2 41.2 L749.2 41.4 L751.2 41.6 L753.2 41.9 L755.2 42.1 L757.2 42.4 L759.2 42.7 L761.2 43 L763.2 43.3 L765.2 43.6 L767.2 44 L769.2 44.4 L771.2 44.7 L773.2 45.1 L775.2 45.6 L777.2 46 L779.1 46.4 L781.1 46.9 L783.1 47.4 L785.1 47.9 L787.1 48.4 L789.1 48.9 L791.1 49.4 L793.1 49.9 L795.1 50.4 L797.1 51 L799.1 51.6 L801.1 52.1 L803.1 52.7 L805.1 53.3 L807.1 53.9 L809.1 54.5 L811.1 55.1 L813.1 55.7 L815.1 56.3 L817.1 56.9 L819.1 57.6 L821.1 58.2 L823.1 58.8 L825.1 59.5 L827.1 60.1 L829.1 60.8 L831.1 61.5 L833.1 62.2 L835.1 62.8 L837.1 63.5 L839.1 64.2 L841.1 64.9 L843.1 65.6 L845.1 66.3 L847.1 67 L849.1 67.7 L851 68.5 L853 69.2 L855 69.9 L857 70.7 L859 71.4 L861 72.1 L863 72.9 L865 73.6 L867 74.4 L869 75.1 L871 75.9 L873 76.7 L875 77.5 L877 78.2 L879 79 L881 79.8 L883 80.6 L885 81.4 L887 82.2 L889 83 L891 83.8 L893 84.6 L895 85.4 L897 86.2 L899 87 L901 87.8 L903 88.7 L905 89.5 L907 90.3 L909 91.2 L911 92 L913 92.8 L915 93.7 L917 94.5 L919 95.4 L921 96.2 L922.9 97.1 L924.9 98 L926.9 98.8 L928.9 99.7 L930.9 100.6 L932.9 101.4 L934.9 102.3 L936.9 103.2 L938.9 104.1 L940.9 105 L942.9 105.9 L944.9 106.7 L946.9 107.6 L948.9 108.5 L950.9 109.4 L952.9 110.3 L954.9 111.2 L956.9 112.1 L958.9 113 L960.9 113.9 L962.9 114.9 L964.9 115.8 L966.9 116.7 L968.9 117.6 L970.9 118.5 L972.9 119.4 L974.9 120.3 L976.9 121.3 L978.9 122.2 L980.9 123.1 L982.9 124 L984.9 125 L986.9 125.9 L988.9 126.8 L990.9 127.8 L992.9 128.7 L994.9 129.6 L996.8 130.6 L998.8 131.5 L1000.8 132.4 L1002.8 133.4 L1004.8 134.3 L1006.8 135.2 L1008.8 136.2 L1010.8 137.1 L1012.8 138 L1014.8 139 L1016.8 139.9 L1018.8 140.8 L1020.8 141.8 L1022.8 142.7 L1024.8 143.6 L1026.8 144.6 L1028.8 145.5 L1030.8 146.5 L1032.8 147.4 L1034.8 148.3 L1036.8 149.3 L1038.8 150.2 L1040.8 151.1 L1042.8 152.1 L1044.8 153 L1046.8 153.9 L1048.8 154.9 L1050.8 155.8 L1052.8 156.7 L1054.8 157.6 L1056.8 158.6 L1058.8 159.5 L1060.8 160.4 L1062.8 161.4 L1064.8 162.3 L1066.8 163.2 L1068.7 164.1 L1070.7 165 L1072.7 166 L1074.7 166.9 L1076.7 167.8 L1078.7 168.7 L1080.7 169.6 L1082.7 170.6 L1084.7 171.5 L1086.7 172.4 L1088.7 173.3 L1090.7 174.2 L1092.7 175.1 L1094.7 176 L1096.7 177 L1098.7 177.9 L1100.7 178.8 L1102.7 179.7 L1104.7 180.6 L1106.7 181.5 L1108.7 182.4 L1110.7 183.3 L1112.7 184.2 L1114.7 185.1 L1116.7 186 L1118.7 186.9 L1120.7 187.9 L1122.7 188.8 L1124.7 189.7 L1126.7 190.6 L1128.7 191.5 L1130.7 192.4 L1132.7 193.3 L1134.7 194.2 L1136.7 195.1 L1138.7 196 L1140.6 196.9 L1142.6 197.8 L1144.6 198.7 L1146.6 199.6 L1148.6 200.6 L1150.6 201.5 L1152.6 202.4 L1154.6 203.3 L1156.6 204.2 L1158.6 205.1 L1160.6 206 L1162.6 206.9 L1164.6 207.9 L1166.6 208.8 L1168.6 209.7 L1170.6 210.6 L1172.6 211.5 L1174.6 212.4 L1176.6 213.4 L1178.6 214.3 L1180.6 215.2 L1182.6 216.1 L1184.6 217 L1186.6 218 L1188.6 218.9 L1190.6 219.8 L1192.6 220.7 L1194.6 221.7 L1196.6 222.6 L1198.6 223.5 L1200.6 224.4 L1202.6 225.4 L1204.6 226.3 L1206.6 227.2 L1208.6 228.1 L1210.6 229.1 L1212.5 230 L1214.5 230.9 L1216.5 231.8 L1218.5 232.7 L1220.5 233.7 L1222.5 234.6 L1224.5 235.5 L1226.5 236.4 L1228.5 237.3 L1230.5 238.2 L1232.5 239.1 L1234.5 240 L1236.5 240.9 L1238.5 241.7 L1240.5 242.6 L1242.5 243.5 L1244.5 244.3 L1246.5 245.2 L1248.5 246" stroke="#a052e0" stroke-width="2.3"/>
<path d="M741.2 54.1 L743.2 53.9 L745.2 53.8 L747.2 53.7 L749.2 53.6 L751.2 53.5 L753.2 53.5 L755.2 53.5 L757.2 53.6 L759.2 53.7 L761.2 53.8 L763.2 53.9 L765.2 54.1 L767.2 54.3 L769.2 54.5 L771.2 54.8 L773.2 55 L775.2 55.3 L777.2 55.7 L779.1 56 L781.1 56.4 L783.1 56.8 L785.1 57.2 L787.1 57.6 L789.1 58.1 L791.1 58.6 L793.1 59.1 L795.1 59.6 L797.1 60.1 L799.1 60.6 L801.1 61.2 L803.1 61.8 L805.1 62.4 L807.1 63 L809.1 63.6 L811.1 64.3 L813.1 64.9 L815.1 65.6 L817.1 66.3 L819.1 67 L821.1 67.7 L823.1 68.4 L825.1 69.1 L827.1 69.9 L829.1 70.6 L831.1 71.4 L833.1 72.2 L835.1 72.9 L837.1 73.7 L839.1 74.5 L841.1 75.3 L843.1 76.2 L845.1 77 L847.1 77.8 L849.1 78.7 L851 79.5 L853 80.4 L855 81.3 L857 82.2 L859 83 L861 83.9 L863 84.8 L865 85.7 L867 86.7 L869 87.6 L871 88.5 L873 89.4 L875 90.4 L877 91.3 L879 92.3 L881 93.2 L883 94.2 L885 95.1 L887 96.1 L889 97.1 L891 98.1 L893 99.1 L895 100 L897 101 L899 102 L901 103 L903 104 L905 105.1 L907 106.1 L909 107.1 L911 108.1 L913 109.1 L915 110.2 L917 111.2 L919 112.2 L921 113.3 L922.9 114.3 L924.9 115.4 L926.9 116.4 L928.9 117.5 L930.9 118.5 L932.9 119.6 L934.9 120.6 L936.9 121.7 L938.9 122.8 L940.9 123.9 L942.9 124.9 L944.9 126 L946.9 127.1 L948.9 128.2 L950.9 129.2 L952.9 130.3 L954.9 131.4 L956.9 132.5 L958.9 133.6 L960.9 134.7 L962.9 135.8 L964.9 136.9 L966.9 138 L968.9 139.1 L970.9 140.2 L972.9 141.3 L974.9 142.4 L976.9 143.5 L978.9 144.6 L980.9 145.7 L982.9 146.8 L984.9 147.9 L986.9 149.1 L988.9 150.2 L990.9 151.3 L992.9 152.4 L994.9 153.5 L996.8 154.7 L998.8 155.8 L1000.8 156.9 L1002.8 158 L1004.8 159.2 L1006.8 160.3 L1008.8 161.4 L1010.8 162.6 L1012.8 163.7 L1014.8 164.8 L1016.8 166 L1018.8 167.1 L1020.8 168.2 L1022.8 169.4 L1024.8 170.5 L1026.8 171.6 L1028.8 172.8 L1030.8 173.9 L1032.8 175.1 L1034.8 176.2 L1036.8 177.3 L1038.8 178.5 L1040.8 179.6 L1042.8 180.8 L1044.8 181.9 L1046.8 183.1 L1048.8 184.2 L1050.8 185.4 L1052.8 186.5 L1054.8 187.7 L1056.8 188.8 L1058.8 190 L1060.8 191.1 L1062.8 192.3 L1064.8 193.4 L1066.8 194.6 L1068.7 195.7 L1070.7 196.9 L1072.7 198 L1074.7 199.2 L1076.7 200.3 L1078.7 201.5 L1080.7 202.7 L1082.7 203.8 L1084.7 205 L1086.7 206.1 L1088.7 207.3 L1090.7 208.5 L1092.7 209.6 L1094.7 210.8 L1096.7 212 L1098.7 213.1 L1100.7 214.3 L1102.7 215.5 L1104.7 216.6 L1106.7 217.8 L1108.7 219 L1110.7 220.1 L1112.7 221.3 L1114.7 222.5 L1116.7 223.7 L1118.7 224.8 L1120.7 226 L1122.7 227.2 L1124.7 228.4 L1126.7 229.5 L1128.7 230.7 L1130.7 231.9 L1132.7 233.1 L1134.7 234.3 L1136.7 235.5 L1138.7 236.6 L1140.6 237.8 L1142.6 239 L1144.6 240.2 L1146.6 241.4 L1148.6 242.6 L1150.6 243.7 L1152.6 244.9 L1154.6 246.1 L1156.6 247.3 L1158.6 248.5 L1160.6 249.7 L1162.6 250.9 L1164.6 252.1 L1166.6 253.3 L1168.6 254.4 L1170.6 255.6 L1172.6 256.8 L1174.6 258 L1176.6 259.2 L1178.6 260.4 L1180.6 261.6 L1182.6 262.7 L1184.6 263.9 L1186.6 265.1 L1188.6 266.3 L1190.6 267.5 L1192.6 268.6 L1194.6 269.8 L1196.6 271 L1198.6 272.2 L1200.6 273.3 L1202.6 274.5 L1204.6 275.6 L1206.6 276.8 L1208.6 277.9 L1210.6 279.1 L1212.5 280.2 L1214.5 281.4 L1216.5 282.5 L1218.5 283.6 L1220.5 284.8 L1222.5 285.9 L1224.5 287 L1226.5 288.1 L1228.5 289.2 L1230.5 290.2 L1232.5 291.3 L1234.5 292.4 L1236.5 293.4 L1238.5 294.5 L1240.5 295.5 L1242.5 296.5 L1244.5 297.5 L1246.5 298.5 L1248.5 299.5" stroke="#0045e6" stroke-width="2.3"/>
<path d="M741.2 54.9 L743.2 54.6 L745.2 54.3 L747.2 54.1 L749.2 54 L751.2 53.8 L753.2 53.8 L755.2 53.7 L757.2 53.7 L759.2 53.8 L761.2 53.9 L763.2 54 L765.2 54.2 L767.2 54.4 L769.2 54.6 L771.2 54.8 L773.2 55.1 L775.2 55.5 L777.2 55.8 L779.1 56.2 L781.1 56.6 L783.1 57.1 L785.1 57.5 L787.1 58 L789.1 58.5 L791.1 59.1 L793.1 59.7 L795.1 60.3 L797.1 60.9 L799.1 61.5 L801.1 62.2 L803.1 62.8 L805.1 63.5 L807.1 64.3 L809.1 65 L811.1 65.8 L813.1 66.5 L815.1 67.3 L817.1 68.1 L819.1 68.9 L821.1 69.8 L823.1 70.6 L825.1 71.5 L827.1 72.4 L829.1 73.3 L831.1 74.2 L833.1 75.1 L835.1 76 L837.1 76.9 L839.1 77.9 L841.1 78.8 L843.1 79.8 L845.1 80.8 L847.1 81.8 L849.1 82.8 L851 83.8 L853 84.8 L855 85.8 L857 86.8 L859 87.9 L861 88.9 L863 90 L865 91 L867 92.1 L869 93.1 L871 94.2 L873 95.3 L875 96.4 L877 97.4 L879 98.5 L881 99.6 L883 100.7 L885 101.8 L887 102.9 L889 104 L891 105.1 L893 106.2 L895 107.4 L897 108.5 L899 109.6 L901 110.7 L903 111.9 L905 113 L907 114.1 L909 115.2 L911 116.4 L913 117.5 L915 118.7 L917 119.8 L919 120.9 L921 122.1 L922.9 123.2 L924.9 124.4 L926.9 125.5 L928.9 126.7 L930.9 127.8 L932.9 129 L934.9 130.1 L936.9 131.3 L938.9 132.4 L940.9 133.6 L942.9 134.8 L944.9 135.9 L946.9 137.1 L948.9 138.3 L950.9 139.4 L952.9 140.6 L954.9 141.8 L956.9 142.9 L958.9 144.1 L960.9 145.3 L962.9 146.4 L964.9 147.6 L966.9 148.8 L968.9 150 L970.9 151.2 L972.9 152.3 L974.9 153.5 L976.9 154.7 L978.9 155.9 L980.9 157.1 L982.9 158.3 L984.9 159.5 L986.9 160.7 L988.9 161.9 L990.9 163.1 L992.9 164.3 L994.9 165.5 L996.8 166.7 L998.8 167.9 L1000.8 169.1 L1002.8 170.3 L1004.8 171.5 L1006.8 172.7 L1008.8 173.9 L1010.8 175.2 L1012.8 176.4 L1014.8 177.6 L1016.8 178.8 L1018.8 180.1 L1020.8 181.3 L1022.8 182.5 L1024.8 183.8 L1026.8 185 L1028.8 186.3 L1030.8 187.5 L1032.8 188.8 L1034.8 190 L1036.8 191.3 L1038.8 192.5 L1040.8 193.8 L1042.8 195.1 L1044.8 196.3 L1046.8 197.6 L1048.8 198.9 L1050.8 200.1 L1052.8 201.4 L1054.8 202.7 L1056.8 204 L1058.8 205.3 L1060.8 206.5 L1062.8 207.8 L1064.8 209.1 L1066.8 210.4 L1068.7 211.7 L1070.7 213 L1072.7 214.3 L1074.7 215.6 L1076.7 216.9 L1078.7 218.2 L1080.7 219.6 L1082.7 220.9 L1084.7 222.2 L1086.7 223.5 L1088.7 224.8 L1090.7 226.2 L1092.7 227.5 L1094.7 228.8 L1096.7 230.1 L1098.7 231.5 L1100.7 232.8 L1102.7 234.1 L1104.7 235.5 L1106.7 236.8 L1108.7 238.2 L1110.7 239.5 L1112.7 240.8 L1114.7 242.2 L1116.7 243.5 L1118.7 244.9 L1120.7 246.2 L1122.7 247.6 L1124.7 248.9 L1126.7 250.3 L1128.7 251.6 L1130.7 253 L1132.7 254.3 L1134.7 255.7 L1136.7 257 L1138.7 258.4 L1140.6 259.7 L1142.6 261.1 L1144.6 262.4 L1146.6 263.8 L1148.6 265.1 L1150.6 266.5 L1152.6 267.8 L1154.6 269.1 L1156.6 270.5 L1158.6 271.8 L1160.6 273.2 L1162.6 274.5 L1164.6 275.8 L1166.6 277.2 L1168.6 278.5 L1170.6 279.8 L1172.6 281.2 L1174.6 282.5 L1176.6 283.8 L1178.6 285.1 L1180.6 286.5 L1182.6 287.8 L1184.6 289.1 L1186.6 290.4 L1188.6 291.7 L1190.6 293 L1192.6 294.3 L1194.6 295.6 L1196.6 296.9 L1198.6 298.2 L1200.6 299.5 L1202.6 300.8 L1204.6 302.1 L1206.6 303.3 L1208.6 304.6 L1210.6 305.9 L1212.5 307.1 L1214.5 308.4 L1216.5 309.7 L1218.5 310.9 L1220.5 312.2 L1222.5 313.4 L1224.5 314.7 L1226.5 315.9 L1228.5 317.2 L1230.5 318.4 L1232.5 319.6 L1234.5 320.9 L1236.5 322.1 L1238.5 323.3 L1240.5 324.5 L1242.5 325.7 L1244.5 327 L1246.5 328.2 L1248.5 329.4" stroke="#0a9441" stroke-width="2.3"/>
<path d="M741.2 58.1 L743.2 57.6 L745.2 57.2 L747.2 56.9 L749.2 56.6 L751.2 56.4 L753.2 56.3 L755.2 56.1 L757.2 56.1 L759.2 56.1 L761.2 56.1 L763.2 56.2 L765.2 56.3 L767.2 56.4 L769.2 56.6 L771.2 56.9 L773.2 57.1 L775.2 57.5 L777.2 57.8 L779.1 58.2 L781.1 58.6 L783.1 59 L785.1 59.5 L787.1 60 L789.1 60.6 L791.1 61.1 L793.1 61.7 L795.1 62.3 L797.1 63 L799.1 63.6 L801.1 64.3 L803.1 65 L805.1 65.8 L807.1 66.5 L809.1 67.3 L811.1 68.1 L813.1 68.9 L815.1 69.7 L817.1 70.5 L819.1 71.4 L821.1 72.3 L823.1 73.1 L825.1 74 L827.1 74.9 L829.1 75.9 L831.1 76.8 L833.1 77.8 L835.1 78.7 L837.1 79.7 L839.1 80.7 L841.1 81.7 L843.1 82.7 L845.1 83.7 L847.1 84.7 L849.1 85.7 L851 86.8 L853 87.8 L855 88.9 L857 89.9 L859 91 L861 92 L863 93.1 L865 94.2 L867 95.3 L869 96.4 L871 97.5 L873 98.6 L875 99.7 L877 100.8 L879 101.9 L881 103 L883 104.2 L885 105.3 L887 106.4 L889 107.6 L891 108.7 L893 109.8 L895 111 L897 112.1 L899 113.3 L901 114.5 L903 115.6 L905 116.8 L907 117.9 L909 119.1 L911 120.3 L913 121.4 L915 122.6 L917 123.8 L919 125 L921 126.2 L922.9 127.4 L924.9 128.5 L926.9 129.7 L928.9 130.9 L930.9 132.1 L932.9 133.3 L934.9 134.5 L936.9 135.7 L938.9 136.9 L940.9 138.2 L942.9 139.4 L944.9 140.6 L946.9 141.8 L948.9 143 L950.9 144.2 L952.9 145.5 L954.9 146.7 L956.9 147.9 L958.9 149.2 L960.9 150.4 L962.9 151.7 L964.9 152.9 L966.9 154.2 L968.9 155.4 L970.9 156.7 L972.9 157.9 L974.9 159.2 L976.9 160.4 L978.9 161.7 L980.9 163 L982.9 164.3 L984.9 165.5 L986.9 166.8 L988.9 168.1 L990.9 169.4 L992.9 170.7 L994.9 172 L996.8 173.3 L998.8 174.6 L1000.8 175.9 L1002.8 177.2 L1004.8 178.5 L1006.8 179.8 L1008.8 181.1 L1010.8 182.5 L1012.8 183.8 L1014.8 185.1 L1016.8 186.5 L1018.8 187.8 L1020.8 189.1 L1022.8 190.5 L1024.8 191.8 L1026.8 193.2 L1028.8 194.5 L1030.8 195.9 L1032.8 197.2 L1034.8 198.6 L1036.8 200 L1038.8 201.3 L1040.8 202.7 L1042.8 204.1 L1044.8 205.5 L1046.8 206.8 L1048.8 208.2 L1050.8 209.6 L1052.8 211 L1054.8 212.4 L1056.8 213.8 L1058.8 215.2 L1060.8 216.6 L1062.8 218 L1064.8 219.4 L1066.8 220.8 L1068.7 222.2 L1070.7 223.6 L1072.7 225 L1074.7 226.4 L1076.7 227.8 L1078.7 229.2 L1080.7 230.7 L1082.7 232.1 L1084.7 233.5 L1086.7 234.9 L1088.7 236.3 L1090.7 237.7 L1092.7 239.1 L1094.7 240.6 L1096.7 242 L1098.7 243.4 L1100.7 244.8 L1102.7 246.2 L1104.7 247.7 L1106.7 249.1 L1108.7 250.5 L1110.7 251.9 L1112.7 253.3 L1114.7 254.7 L1116.7 256.2 L1118.7 257.6 L1120.7 259 L1122.7 260.4 L1124.7 261.8 L1126.7 263.2 L1128.7 264.6 L1130.7 266 L1132.7 267.4 L1134.7 268.8 L1136.7 270.2 L1138.7 271.6 L1140.6 273 L1142.6 274.4 L1144.6 275.8 L1146.6 277.2 L1148.6 278.6 L1150.6 280 L1152.6 281.4 L1154.6 282.8 L1156.6 284.2 L1158.6 285.5 L1160.6 286.9 L1162.6 288.3 L1164.6 289.7 L1166.6 291 L1168.6 292.4 L1170.6 293.8 L1172.6 295.1 L1174.6 296.5 L1176.6 297.9 L1178.6 299.2 L1180.6 300.6 L1182.6 302 L1184.6 303.3 L1186.6 304.7 L1188.6 306 L1190.6 307.4 L1192.6 308.8 L1194.6 310.1 L1196.6 311.5 L1198.6 312.8 L1200.6 314.2 L1202.6 315.6 L1204.6 316.9 L1206.6 318.3 L1208.6 319.7 L1210.6 321.1 L1212.5 322.4 L1214.5 323.8 L1216.5 325.2 L1218.5 326.6 L1220.5 328 L1222.5 329.4 L1224.5 330.8 L1226.5 332.3 L1228.5 333.7 L1230.5 335.1 L1232.5 336.6 L1234.5 338 L1236.5 339.5 L1238.5 341 L1240.5 342.5 L1242.5 344 L1244.5 345.5 L1246.5 347.1 L1248.5 348.6" stroke="#ff0000" stroke-width="2.8"/>
</g>
<ellipse cx="782.4" cy="63.2" rx="5.4" ry="18.4" fill="none" stroke="#0000ff" stroke-width="3"/>
<line x1="758" y1="32" x2="785.5" y2="32" stroke="#0000ff" stroke-width="3.2" stroke-linecap="round"/>
<path d="M747 32 L762 27 L762 37 Z" fill="#0000ff" stroke="#0000ff" stroke-width="1.6" stroke-linejoin="round"/>
<ellipse cx="777.4" cy="361" rx="5.3" ry="22.2" fill="none" stroke="#ff0000" stroke-width="3"/>
<line x1="779" y1="395" x2="810" y2="395" stroke="#ff0000" stroke-width="3" stroke-linecap="round"/>
<path d="M822.5 395 L807 390 L807 400 Z" fill="#ff0000" stroke="#ff0000" stroke-width="1.6" stroke-linejoin="round"/>
<line x1="738.8" y1="21.7" x2="1250.9" y2="21.7" stroke="#000" stroke-width="4.8"/>
<line x1="738.8" y1="431.2" x2="1250.9" y2="431.2" stroke="#000" stroke-width="4.8"/>
<line x1="741.2" y1="19.3" x2="741.2" y2="433.6" stroke="#0000ff" stroke-width="4.8"/>
<line x1="1248.5" y1="19.3" x2="1248.5" y2="433.6" stroke="#ff0000" stroke-width="4.8"/>
<line x1="741.2" y1="19.3" x2="741.2" y2="433.6" stroke="#0000ff" stroke-width="4.8"/>
<line x1="1248.5" y1="19.3" x2="1248.5" y2="433.6" stroke="#ff0000" stroke-width="4.8"/>
<path d="M741.2 80.5 H749.6 M741.2 153.3 H749.6 M741.2 226.1 H749.6 M741.2 298.9 H749.6 M741.2 371.7 H749.6" stroke="#0000ff" stroke-width="4.2" fill="none"/>
<circle cx="743.6" cy="44.1" r="2.3" fill="#0000ff"/>
<circle cx="743.6" cy="116.9" r="2.3" fill="#0000ff"/>
<circle cx="743.6" cy="189.7" r="2.3" fill="#0000ff"/>
<circle cx="743.6" cy="262.5" r="2.3" fill="#0000ff"/>
<circle cx="743.6" cy="335.3" r="2.3" fill="#0000ff"/>
<circle cx="743.6" cy="408.1" r="2.3" fill="#0000ff"/>
<path d="M1248.5 317.3 H1240.1 M1248.5 203.6 H1240.1 M1248.5 89.9 H1240.1" stroke="#ff0000" stroke-width="4.2" fill="none"/>
<circle cx="1246.1" cy="374.1" r="2.3" fill="#ff0000"/>
<circle cx="1246.1" cy="260.5" r="2.3" fill="#ff0000"/>
<circle cx="1246.1" cy="146.8" r="2.3" fill="#ff0000"/>
<circle cx="1246.1" cy="33.1" r="2.3" fill="#ff0000"/>
<path d="M842.7 431.2 V422.8 M944.1 431.2 V422.8 M1045.6 431.2 V422.8 M1147 431.2 V422.8" stroke="#000" stroke-width="4.2" fill="none"/>
<circle cx="791.9" cy="428.8" r="2.3" fill="#000"/>
<circle cx="893.4" cy="428.8" r="2.3" fill="#000"/>
<circle cx="994.9" cy="428.8" r="2.3" fill="#000"/>
<circle cx="1096.3" cy="428.8" r="2.3" fill="#000"/>
<circle cx="1197.8" cy="428.8" r="2.3" fill="#000"/>
<text x="731.8" y="89.1" font-size="27.5" fill="#0000ff" font-weight="bold" text-anchor="end" >0</text>
<text x="731.8" y="161.9" font-size="27.5" fill="#0000ff" font-weight="bold" text-anchor="end" >-5</text>
<text x="731.8" y="234.7" font-size="27.5" fill="#0000ff" font-weight="bold" text-anchor="end" >-10</text>
<text x="731.8" y="307.5" font-size="27.5" fill="#0000ff" font-weight="bold" text-anchor="end" >-15</text>
<text x="731.8" y="380.3" font-size="27.5" fill="#0000ff" font-weight="bold" text-anchor="end" >-20</text>
<text x="1258" y="439" font-size="27.5" fill="#ff0000" font-weight="bold" text-anchor="start" >0</text>
<text x="1258" y="325.3" font-size="27.5" fill="#ff0000" font-weight="bold" text-anchor="start" >5</text>
<text x="1258" y="211.6" font-size="27.5" fill="#ff0000" font-weight="bold" text-anchor="start" >10</text>
<text x="1258" y="97.9" font-size="27.5" fill="#ff0000" font-weight="bold" text-anchor="start" >15</text>
<text x="741.2" y="460.7" font-size="27.5" fill="#000" font-weight="bold" text-anchor="middle" >300</text>
<text x="842.7" y="460.7" font-size="27.5" fill="#000" font-weight="bold" text-anchor="middle" >400</text>
<text x="944.1" y="460.7" font-size="27.5" fill="#000" font-weight="bold" text-anchor="middle" >500</text>
<text x="1045.6" y="460.7" font-size="27.5" fill="#000" font-weight="bold" text-anchor="middle" >600</text>
<text x="1147" y="460.7" font-size="27.5" fill="#000" font-weight="bold" text-anchor="middle" >700</text>
<text x="1248.5" y="460.7" font-size="27.5" fill="#000" font-weight="bold" text-anchor="middle" >800</text>
<text x="994.5" y="497.7" font-size="27.2" fill="#000" font-weight="bold" text-anchor="middle" >Wavelength (nm)</text>
<text x="0" y="0" font-size="26.5" fill="#0000ff" font-weight="bold" text-anchor="middle" transform="translate(683.2 225.8) rotate(-90)">Re<tspan font-weight="normal" stroke="#0000ff" stroke-width="0.9">(ε)</tspan></text>
<text x="0" y="0" font-size="26.5" fill="#ff0000" font-weight="bold" text-anchor="middle" transform="translate(1318.4 222.8) rotate(-90)">Im<tspan font-weight="normal" stroke="#ff0000" stroke-width="0.9">(ε)</tspan></text>
<circle cx="767.6" cy="150" r="4.6" fill="#ff3b3b"/>
<text x="781.8" y="159.6" font-size="26.5" fill="#ff1010" font-weight="normal" text-anchor="start" stroke="#ff1010" stroke-width="1.0" transform="translate(781.8 150) scale(1 1.04) translate(-781.8 -150)">800 <tspan stroke-width="0" font-size="30">°</tspan>C</text>
<circle cx="767.6" cy="186.5" r="4.6" fill="#1f9a55"/>
<text x="781.8" y="196.1" font-size="26.5" fill="#0a9441" font-weight="normal" text-anchor="start" stroke="#0a9441" stroke-width="1.0" transform="translate(781.8 186.5) scale(1 1.04) translate(-781.8 -186.5)">600 <tspan stroke-width="0" font-size="30">°</tspan>C</text>
<circle cx="767.6" cy="223" r="4.6" fill="#1f5fe0"/>
<text x="781.8" y="232.6" font-size="26.5" fill="#0050dd" font-weight="normal" text-anchor="start" stroke="#0050dd" stroke-width="1.0" transform="translate(781.8 223) scale(1 1.04) translate(-781.8 -223)">400 <tspan stroke-width="0" font-size="30">°</tspan>C</text>
<circle cx="767.6" cy="259.5" r="4.6" fill="#aa66e6"/>
<text x="781.8" y="269.1" font-size="26.5" fill="#a055e0" font-weight="normal" text-anchor="start" stroke="#a055e0" stroke-width="1.0" transform="translate(781.8 259.5) scale(1 1.04) translate(-781.8 -259.5)">200 <tspan stroke-width="0" font-size="30">°</tspan>C</text>
<circle cx="767.6" cy="296" r="4.6" fill="#4a4a4a"/>
<text x="781.8" y="305.6" font-size="26.5" fill="#333333" font-weight="normal" text-anchor="start" stroke="#333333" stroke-width="1.0" transform="translate(781.8 296) scale(1 1.04) translate(-781.8 -296)">RT</text>
<clipPath id="cc"><rect x="75.3" y="538" width="506.7" height="406"/></clipPath>
<g clip-path="url(#cc)" fill="none" stroke-linejoin="round">
<path d="M75.3 916.7 L85.4 919.6 L87.4 920.9 L89.3 922 L91.3 922.9 L93.3 923.5 L95.2 924 L97.2 924.2 L99.1 924.3 L101.1 924.2 L103 923.9 L105 923.4 L106.9 922.8 L108.9 922 L110.8 921.1 L112.8 920 L114.8 918.8 L116.7 917.5 L118.7 916.1 L120.6 914.6 L122.6 913 L124.5 911.3 L126.5 909.5 L128.4 907.7 L130.4 905.8 L132.4 903.8 L134.3 901.8 L136.3 899.8 L138.2 897.7 L140.2 895.6 L142.1 893.6 L144.1 891.5 L146 889.4 L148 887.3 L149.9 885.2 L151.9 883.1 L153.9 881.1 L155.8 879 L157.8 877 L159.7 875 L161.7 873 L163.6 871.1 L165.6 869.1 L167.5 867.3 L169.5 865.4 L171.5 863.7 L173.4 861.9 L175.4 860.3 L177.3 858.6 L179.3 857.1 L181.2 855.6 L183.2 854.1 L185.1 852.7 L187.1 851.4 L189 850.1 L191 848.8 L193 847.6 L194.9 846.5 L196.9 845.4 L198.8 844.4 L200.8 843.3 L202.7 842.4 L204.7 841.5 L206.6 840.6 L208.6 839.7 L210.6 838.9 L212.5 838.2 L214.5 837.4 L216.4 836.7 L218.4 836 L220.3 835.4 L222.3 834.8 L224.2 834.2 L226.2 833.6 L228.1 833.1 L230.1 832.6 L232.1 832.1 L234 831.7 L236 831.2 L237.9 830.8 L239.9 830.4 L241.8 830.1 L243.8 829.7 L245.7 829.4 L247.7 829.1 L249.7 828.8 L251.6 828.5 L253.6 828.3 L255.5 828.1 L257.5 827.9 L259.4 827.7 L261.4 827.5 L263.3 827.4 L265.3 827.3 L267.2 827.2 L269.2 827.1 L271.2 827 L273.1 827 L275.1 827 L277 826.9 L279 826.9 L280.9 827 L282.9 827 L284.8 827.1 L286.8 827.1 L288.8 827.2 L290.7 827.3 L292.7 827.4 L294.6 827.6 L296.6 827.7 L298.5 827.9 L300.5 828 L302.4 828.2 L304.4 828.4 L306.3 828.6 L308.3 828.8 L310.3 829.1 L312.2 829.3 L314.2 829.6 L316.1 829.8 L318.1 830.1 L320 830.4 L322 830.7 L323.9 831 L325.9 831.4 L327.9 831.7 L329.8 832 L331.8 832.4 L333.7 832.7 L335.7 833.1 L337.6 833.5 L339.6 833.9 L341.5 834.2 L343.5 834.6 L345.4 835 L347.4 835.5 L349.4 835.9 L351.3 836.3 L353.3 836.7 L355.2 837.2 L357.2 837.6 L359.1 838 L361.1 838.5 L363 838.9 L365 839.4 L367 839.9 L368.9 840.3 L370.9 840.8 L372.8 841.3 L374.8 841.7 L376.7 842.2 L378.7 842.7 L380.6 843.2 L382.6 843.6 L384.5 844.1 L386.5 844.6 L388.5 845.1 L390.4 845.6 L392.4 846.1 L394.3 846.6 L396.3 847 L398.2 847.5 L400.2 848 L402.1 848.5 L404.1 849 L406.1 849.5 L408 850 L410 850.5 L411.9 851 L413.9 851.5 L415.8 852 L417.8 852.5 L419.7 853 L421.7 853.5 L423.6 854 L425.6 854.5 L427.6 855 L429.5 855.5 L431.5 856 L433.4 856.4 L435.4 856.9 L437.3 857.4 L439.3 857.9 L441.2 858.4 L443.2 858.9 L445.2 859.4 L447.1 859.9 L449.1 860.4 L451 860.9 L453 861.4 L454.9 861.9 L456.9 862.4 L458.8 862.9 L460.8 863.4 L462.7 863.9 L464.7 864.4 L466.7 864.9 L468.6 865.4 L470.6 865.8 L472.5 866.3 L474.5 866.8 L476.4 867.3 L478.4 867.8 L480.3 868.3 L482.3 868.7 L484.3 869.2 L486.2 869.7 L488.2 870.2 L490.1 870.6 L492.1 871.1 L494 871.6 L496 872.1 L497.9 872.5 L499.9 873 L501.8 873.4 L503.8 873.9 L505.8 874.4 L507.7 874.8 L509.7 875.3 L511.6 875.7 L513.6 876.2 L515.5 876.6 L517.5 877.1 L519.4 877.5 L521.4 878 L523.4 878.4 L525.3 878.8 L527.3 879.3 L529.2 879.7 L531.2 880.1 L533.1 880.5 L535.1 881 L537 881.4 L539 881.8 L540.9 882.2 L542.9 882.6 L544.9 883 L546.8 883.4 L548.8 883.8 L550.7 884.2 L552.7 884.6 L554.6 885 L556.6 885.4 L558.5 885.8 L560.5 886.1 L562.5 886.5 L564.4 886.9 L566.4 887.3 L568.3 887.6 L570.3 888 L572.2 888.3 L574.2 888.7 L576.1 889 L578.1 889.4 L580 889.7 L582 890" stroke="#1a1a1a" stroke-width="2.4"/>
<path d="M75.3 886.6 L85.4 878.6 L87.4 874.4 L89.3 870.3 L91.3 866.2 L93.3 862.3 L95.2 858.4 L97.2 854.6 L99.1 850.8 L101.1 847.2 L103 843.6 L105 840.1 L106.9 836.6 L108.9 833.3 L110.8 830 L112.8 826.8 L114.8 823.6 L116.7 820.6 L118.7 817.6 L120.6 814.6 L122.6 811.8 L124.5 809 L126.5 806.2 L128.4 803.6 L130.4 801 L132.4 798.5 L134.3 796 L136.3 793.6 L138.2 791.3 L140.2 789 L142.1 786.8 L144.1 784.6 L146 782.5 L148 780.5 L149.9 778.5 L151.9 776.6 L153.9 774.8 L155.8 773 L157.8 771.2 L159.7 769.6 L161.7 767.9 L163.6 766.3 L165.6 764.8 L167.5 763.4 L169.5 761.9 L171.5 760.6 L173.4 759.2 L175.4 758 L177.3 756.8 L179.3 755.6 L181.2 754.4 L183.2 753.4 L185.1 752.3 L187.1 751.3 L189 750.4 L191 749.5 L193 748.6 L194.9 747.8 L196.9 747 L198.8 746.2 L200.8 745.5 L202.7 744.9 L204.7 744.2 L206.6 743.6 L208.6 743.1 L210.6 742.5 L212.5 742 L214.5 741.6 L216.4 741.1 L218.4 740.7 L220.3 740.4 L222.3 740 L224.2 739.7 L226.2 739.4 L228.1 739.2 L230.1 738.9 L232.1 738.7 L234 738.5 L236 738.4 L237.9 738.2 L239.9 738.1 L241.8 738 L243.8 738 L245.7 737.9 L247.7 737.9 L249.7 737.9 L251.6 737.9 L253.6 737.9 L255.5 738 L257.5 738 L259.4 738.1 L261.4 738.2 L263.3 738.3 L265.3 738.4 L267.2 738.6 L269.2 738.7 L271.2 738.9 L273.1 739.1 L275.1 739.3 L277 739.5 L279 739.7 L280.9 739.9 L282.9 740.1 L284.8 740.3 L286.8 740.6 L288.8 740.8 L290.7 741.1 L292.7 741.4 L294.6 741.6 L296.6 741.9 L298.5 742.2 L300.5 742.5 L302.4 742.8 L304.4 743.2 L306.3 743.5 L308.3 743.8 L310.3 744.2 L312.2 744.5 L314.2 744.9 L316.1 745.2 L318.1 745.6 L320 746 L322 746.4 L323.9 746.8 L325.9 747.2 L327.9 747.6 L329.8 748 L331.8 748.4 L333.7 748.8 L335.7 749.3 L337.6 749.7 L339.6 750.2 L341.5 750.6 L343.5 751.1 L345.4 751.5 L347.4 752 L349.4 752.5 L351.3 752.9 L353.3 753.4 L355.2 753.9 L357.2 754.4 L359.1 754.9 L361.1 755.4 L363 755.9 L365 756.4 L367 756.9 L368.9 757.5 L370.9 758 L372.8 758.5 L374.8 759 L376.7 759.6 L378.7 760.1 L380.6 760.7 L382.6 761.2 L384.5 761.8 L386.5 762.3 L388.5 762.9 L390.4 763.4 L392.4 764 L394.3 764.5 L396.3 765.1 L398.2 765.7 L400.2 766.2 L402.1 766.8 L404.1 767.4 L406.1 768 L408 768.5 L410 769.1 L411.9 769.7 L413.9 770.2 L415.8 770.8 L417.8 771.4 L419.7 772 L421.7 772.5 L423.6 773.1 L425.6 773.7 L427.6 774.2 L429.5 774.8 L431.5 775.4 L433.4 775.9 L435.4 776.5 L437.3 777 L439.3 777.6 L441.2 778.1 L443.2 778.7 L445.2 779.2 L447.1 779.8 L449.1 780.3 L451 780.9 L453 781.4 L454.9 782 L456.9 782.5 L458.8 783 L460.8 783.6 L462.7 784.1 L464.7 784.7 L466.7 785.2 L468.6 785.7 L470.6 786.3 L472.5 786.8 L474.5 787.3 L476.4 787.9 L478.4 788.4 L480.3 788.9 L482.3 789.5 L484.3 790 L486.2 790.5 L488.2 791.1 L490.1 791.6 L492.1 792.1 L494 792.7 L496 793.2 L497.9 793.7 L499.9 794.2 L501.8 794.8 L503.8 795.3 L505.8 795.8 L507.7 796.3 L509.7 796.9 L511.6 797.4 L513.6 797.9 L515.5 798.4 L517.5 798.9 L519.4 799.5 L521.4 800 L523.4 800.5 L525.3 801 L527.3 801.5 L529.2 802 L531.2 802.5 L533.1 803 L535.1 803.5 L537 804 L539 804.5 L540.9 805 L542.9 805.5 L544.9 805.9 L546.8 806.4 L548.8 806.9 L550.7 807.4 L552.7 807.9 L554.6 808.3 L556.6 808.8 L558.5 809.3 L560.5 809.7 L562.5 810.2 L564.4 810.6 L566.4 811.1 L568.3 811.5 L570.3 812 L572.2 812.4 L574.2 812.8 L576.1 813.3 L578.1 813.7 L580 814.1 L582 814.5" stroke="#a052e0" stroke-width="2.4"/>
<path d="M75.3 925.5 L85.4 915.5 L87.4 910.1 L89.3 904.7 L91.3 899.4 L93.3 894.2 L95.2 889 L97.2 883.9 L99.1 878.8 L101.1 873.8 L103 868.9 L105 864 L106.9 859.2 L108.9 854.5 L110.8 849.8 L112.8 845.2 L114.8 840.7 L116.7 836.3 L118.7 831.9 L120.6 827.7 L122.6 823.5 L124.5 819.4 L126.5 815.4 L128.4 811.4 L130.4 807.6 L132.4 803.8 L134.3 800.2 L136.3 796.6 L138.2 793.1 L140.2 789.6 L142.1 786.3 L144.1 783 L146 779.8 L148 776.7 L149.9 773.6 L151.9 770.6 L153.9 767.7 L155.8 764.9 L157.8 762.1 L159.7 759.4 L161.7 756.8 L163.6 754.2 L165.6 751.7 L167.5 749.3 L169.5 747 L171.5 744.7 L173.4 742.5 L175.4 740.4 L177.3 738.4 L179.3 736.4 L181.2 734.5 L183.2 732.7 L185.1 731 L187.1 729.3 L189 727.7 L191 726.1 L193 724.7 L194.9 723.3 L196.9 722 L198.8 720.7 L200.8 719.5 L202.7 718.4 L204.7 717.3 L206.6 716.3 L208.6 715.3 L210.6 714.4 L212.5 713.6 L214.5 712.8 L216.4 712 L218.4 711.4 L220.3 710.7 L222.3 710.2 L224.2 709.6 L226.2 709.2 L228.1 708.7 L230.1 708.4 L232.1 708 L234 707.7 L236 707.5 L237.9 707.3 L239.9 707.1 L241.8 707 L243.8 706.9 L245.7 706.8 L247.7 706.8 L249.7 706.8 L251.6 706.8 L253.6 706.9 L255.5 707 L257.5 707.1 L259.4 707.2 L261.4 707.4 L263.3 707.6 L265.3 707.8 L267.2 708 L269.2 708.2 L271.2 708.5 L273.1 708.7 L275.1 709 L277 709.3 L279 709.6 L280.9 709.9 L282.9 710.2 L284.8 710.5 L286.8 710.8 L288.8 711.2 L290.7 711.5 L292.7 711.8 L294.6 712.2 L296.6 712.6 L298.5 712.9 L300.5 713.3 L302.4 713.7 L304.4 714 L306.3 714.4 L308.3 714.8 L310.3 715.2 L312.2 715.7 L314.2 716.1 L316.1 716.5 L318.1 716.9 L320 717.4 L322 717.8 L323.9 718.3 L325.9 718.7 L327.9 719.2 L329.8 719.6 L331.8 720.1 L333.7 720.6 L335.7 721.1 L337.6 721.6 L339.6 722.1 L341.5 722.6 L343.5 723.1 L345.4 723.6 L347.4 724.1 L349.4 724.7 L351.3 725.2 L353.3 725.7 L355.2 726.3 L357.2 726.8 L359.1 727.4 L361.1 727.9 L363 728.5 L365 729 L367 729.6 L368.9 730.2 L370.9 730.8 L372.8 731.4 L374.8 732 L376.7 732.6 L378.7 733.2 L380.6 733.8 L382.6 734.4 L384.5 735 L386.5 735.6 L388.5 736.2 L390.4 736.8 L392.4 737.5 L394.3 738.1 L396.3 738.7 L398.2 739.4 L400.2 740 L402.1 740.7 L404.1 741.3 L406.1 741.9 L408 742.6 L410 743.2 L411.9 743.9 L413.9 744.5 L415.8 745.2 L417.8 745.9 L419.7 746.5 L421.7 747.2 L423.6 747.8 L425.6 748.5 L427.6 749.1 L429.5 749.8 L431.5 750.4 L433.4 751.1 L435.4 751.8 L437.3 752.4 L439.3 753.1 L441.2 753.7 L443.2 754.4 L445.2 755 L447.1 755.7 L449.1 756.3 L451 756.9 L453 757.6 L454.9 758.2 L456.9 758.9 L458.8 759.5 L460.8 760.1 L462.7 760.7 L464.7 761.4 L466.7 762 L468.6 762.6 L470.6 763.2 L472.5 763.8 L474.5 764.4 L476.4 765 L478.4 765.6 L480.3 766.2 L482.3 766.8 L484.3 767.3 L486.2 767.9 L488.2 768.5 L490.1 769 L492.1 769.6 L494 770.2 L496 770.7 L497.9 771.3 L499.9 771.8 L501.8 772.3 L503.8 772.9 L505.8 773.4 L507.7 773.9 L509.7 774.5 L511.6 775 L513.6 775.5 L515.5 776 L517.5 776.5 L519.4 777.1 L521.4 777.6 L523.4 778.1 L525.3 778.6 L527.3 779.1 L529.2 779.6 L531.2 780.1 L533.1 780.6 L535.1 781.2 L537 781.7 L539 782.2 L540.9 782.7 L542.9 783.2 L544.9 783.7 L546.8 784.2 L548.8 784.7 L550.7 785.2 L552.7 785.8 L554.6 786.3 L556.6 786.8 L558.5 787.3 L560.5 787.8 L562.5 788.4 L564.4 788.9 L566.4 789.4 L568.3 790 L570.3 790.5 L572.2 791 L574.2 791.6 L576.1 792.1 L578.1 792.7 L580 793.3 L582 793.8" stroke="#0045e6" stroke-width="2.4"/>
<path d="M75.3 914.1 L85.4 901.6 L87.4 895.2 L89.3 888.8 L91.3 882.6 L93.3 876.4 L95.2 870.4 L97.2 864.4 L99.1 858.6 L101.1 852.8 L103 847.1 L105 841.6 L106.9 836.1 L108.9 830.7 L110.8 825.4 L112.8 820.1 L114.8 815 L116.7 809.9 L118.7 804.9 L120.6 800 L122.6 795.2 L124.5 790.4 L126.5 785.8 L128.4 781.3 L130.4 776.8 L132.4 772.4 L134.3 768.2 L136.3 764 L138.2 760 L140.2 756 L142.1 752.1 L144.1 748.4 L146 744.8 L148 741.2 L149.9 737.8 L151.9 734.5 L153.9 731.4 L155.8 728.3 L157.8 725.3 L159.7 722.5 L161.7 719.8 L163.6 717.1 L165.6 714.6 L167.5 712.2 L169.5 709.8 L171.5 707.6 L173.4 705.5 L175.4 703.4 L177.3 701.5 L179.3 699.6 L181.2 697.8 L183.2 696.2 L185.1 694.5 L187.1 693 L189 691.6 L191 690.2 L193 688.9 L194.9 687.7 L196.9 686.5 L198.8 685.4 L200.8 684.4 L202.7 683.4 L204.7 682.5 L206.6 681.7 L208.6 680.9 L210.6 680.2 L212.5 679.5 L214.5 678.9 L216.4 678.3 L218.4 677.8 L220.3 677.3 L222.3 676.8 L224.2 676.4 L226.2 676.1 L228.1 675.8 L230.1 675.5 L232.1 675.2 L234 675 L236 674.8 L237.9 674.6 L239.9 674.5 L241.8 674.4 L243.8 674.3 L245.7 674.3 L247.7 674.3 L249.7 674.3 L251.6 674.3 L253.6 674.4 L255.5 674.5 L257.5 674.6 L259.4 674.7 L261.4 674.8 L263.3 675 L265.3 675.2 L267.2 675.4 L269.2 675.6 L271.2 675.8 L273.1 676.1 L275.1 676.4 L277 676.7 L279 677 L280.9 677.3 L282.9 677.6 L284.8 677.9 L286.8 678.3 L288.8 678.6 L290.7 679 L292.7 679.4 L294.6 679.8 L296.6 680.2 L298.5 680.6 L300.5 681 L302.4 681.4 L304.4 681.9 L306.3 682.3 L308.3 682.8 L310.3 683.2 L312.2 683.7 L314.2 684.2 L316.1 684.7 L318.1 685.2 L320 685.7 L322 686.2 L323.9 686.8 L325.9 687.3 L327.9 687.8 L329.8 688.4 L331.8 689 L333.7 689.5 L335.7 690.1 L337.6 690.7 L339.6 691.2 L341.5 691.8 L343.5 692.4 L345.4 693 L347.4 693.6 L349.4 694.2 L351.3 694.8 L353.3 695.4 L355.2 696 L357.2 696.7 L359.1 697.3 L361.1 697.9 L363 698.6 L365 699.2 L367 699.8 L368.9 700.5 L370.9 701.1 L372.8 701.7 L374.8 702.4 L376.7 703 L378.7 703.7 L380.6 704.3 L382.6 705 L384.5 705.6 L386.5 706.3 L388.5 706.9 L390.4 707.6 L392.4 708.2 L394.3 708.9 L396.3 709.5 L398.2 710.2 L400.2 710.8 L402.1 711.5 L404.1 712.1 L406.1 712.8 L408 713.4 L410 714.1 L411.9 714.7 L413.9 715.4 L415.8 716 L417.8 716.7 L419.7 717.3 L421.7 718 L423.6 718.7 L425.6 719.3 L427.6 720 L429.5 720.6 L431.5 721.3 L433.4 721.9 L435.4 722.6 L437.3 723.2 L439.3 723.9 L441.2 724.5 L443.2 725.2 L445.2 725.8 L447.1 726.5 L449.1 727.1 L451 727.8 L453 728.4 L454.9 729.1 L456.9 729.7 L458.8 730.4 L460.8 731 L462.7 731.7 L464.7 732.3 L466.7 732.9 L468.6 733.6 L470.6 734.2 L472.5 734.9 L474.5 735.5 L476.4 736.1 L478.4 736.8 L480.3 737.4 L482.3 738 L484.3 738.7 L486.2 739.3 L488.2 739.9 L490.1 740.5 L492.1 741.2 L494 741.8 L496 742.4 L497.9 743 L499.9 743.7 L501.8 744.3 L503.8 744.9 L505.8 745.5 L507.7 746.1 L509.7 746.7 L511.6 747.3 L513.6 747.9 L515.5 748.6 L517.5 749.2 L519.4 749.8 L521.4 750.4 L523.4 750.9 L525.3 751.5 L527.3 752.1 L529.2 752.7 L531.2 753.3 L533.1 753.9 L535.1 754.5 L537 755.1 L539 755.6 L540.9 756.2 L542.9 756.8 L544.9 757.4 L546.8 757.9 L548.8 758.5 L550.7 759 L552.7 759.6 L554.6 760.2 L556.6 760.7 L558.5 761.3 L560.5 761.8 L562.5 762.4 L564.4 762.9 L566.4 763.4 L568.3 764 L570.3 764.5 L572.2 765 L574.2 765.6 L576.1 766.1 L578.1 766.6 L580 767.1 L582 767.6" stroke="#0a9441" stroke-width="2.4"/>
<path d="M75.3 943.1 L85.4 928.8 L87.4 922.2 L89.3 915.5 L91.3 908.8 L93.3 902 L95.2 895.1 L97.2 888.2 L99.1 881.3 L101.1 874.4 L103 867.5 L105 860.5 L106.9 853.6 L108.9 846.8 L110.8 840 L112.8 833.3 L114.8 826.6 L116.7 820 L118.7 813.6 L120.6 807.2 L122.6 801 L124.5 794.9 L126.5 789 L128.4 783.2 L130.4 777.6 L132.4 772.1 L134.3 766.8 L136.3 761.6 L138.2 756.6 L140.2 751.7 L142.1 747 L144.1 742.4 L146 737.9 L148 733.6 L149.9 729.4 L151.9 725.3 L153.9 721.3 L155.8 717.4 L157.8 713.7 L159.7 710.1 L161.7 706.5 L163.6 703.1 L165.6 699.8 L167.5 696.5 L169.5 693.4 L171.5 690.4 L173.4 687.6 L175.4 684.8 L177.3 682.3 L179.3 679.8 L181.2 677.5 L183.2 675.3 L185.1 673.3 L187.1 671.4 L189 669.6 L191 667.9 L193 666.4 L194.9 664.9 L196.9 663.5 L198.8 662.2 L200.8 661 L202.7 659.9 L204.7 658.8 L206.6 657.8 L208.6 656.9 L210.6 656 L212.5 655.2 L214.5 654.5 L216.4 653.8 L218.4 653.2 L220.3 652.7 L222.3 652.2 L224.2 651.7 L226.2 651.4 L228.1 651 L230.1 650.7 L232.1 650.5 L234 650.3 L236 650.2 L237.9 650.1 L239.9 650 L241.8 650 L243.8 650 L245.7 650.1 L247.7 650.2 L249.7 650.3 L251.6 650.5 L253.6 650.7 L255.5 650.9 L257.5 651.2 L259.4 651.4 L261.4 651.7 L263.3 652 L265.3 652.4 L267.2 652.7 L269.2 653.1 L271.2 653.5 L273.1 653.9 L275.1 654.3 L277 654.7 L279 655.2 L280.9 655.6 L282.9 656.1 L284.8 656.5 L286.8 657 L288.8 657.5 L290.7 657.9 L292.7 658.4 L294.6 658.9 L296.6 659.4 L298.5 659.9 L300.5 660.4 L302.4 661 L304.4 661.5 L306.3 662 L308.3 662.6 L310.3 663.1 L312.2 663.7 L314.2 664.2 L316.1 664.8 L318.1 665.4 L320 665.9 L322 666.5 L323.9 667.1 L325.9 667.7 L327.9 668.3 L329.8 668.9 L331.8 669.5 L333.7 670.1 L335.7 670.8 L337.6 671.4 L339.6 672 L341.5 672.7 L343.5 673.3 L345.4 673.9 L347.4 674.6 L349.4 675.2 L351.3 675.9 L353.3 676.6 L355.2 677.2 L357.2 677.9 L359.1 678.6 L361.1 679.3 L363 679.9 L365 680.6 L367 681.3 L368.9 682 L370.9 682.7 L372.8 683.4 L374.8 684.1 L376.7 684.8 L378.7 685.5 L380.6 686.2 L382.6 687 L384.5 687.7 L386.5 688.4 L388.5 689.1 L390.4 689.9 L392.4 690.6 L394.3 691.3 L396.3 692 L398.2 692.8 L400.2 693.5 L402.1 694.3 L404.1 695 L406.1 695.7 L408 696.5 L410 697.2 L411.9 698 L413.9 698.7 L415.8 699.5 L417.8 700.2 L419.7 701 L421.7 701.7 L423.6 702.5 L425.6 703.2 L427.6 704 L429.5 704.7 L431.5 705.5 L433.4 706.2 L435.4 707 L437.3 707.7 L439.3 708.5 L441.2 709.2 L443.2 710 L445.2 710.7 L447.1 711.5 L449.1 712.2 L451 713 L453 713.7 L454.9 714.5 L456.9 715.2 L458.8 716 L460.8 716.7 L462.7 717.4 L464.7 718.2 L466.7 718.9 L468.6 719.6 L470.6 720.4 L472.5 721.1 L474.5 721.8 L476.4 722.6 L478.4 723.3 L480.3 724 L482.3 724.7 L484.3 725.4 L486.2 726.1 L488.2 726.8 L490.1 727.5 L492.1 728.2 L494 728.9 L496 729.6 L497.9 730.3 L499.9 731 L501.8 731.7 L503.8 732.4 L505.8 733 L507.7 733.7 L509.7 734.4 L511.6 735 L513.6 735.7 L515.5 736.3 L517.5 737 L519.4 737.6 L521.4 738.3 L523.4 738.9 L525.3 739.5 L527.3 740.1 L529.2 740.7 L531.2 741.4 L533.1 742 L535.1 742.6 L537 743.1 L539 743.7 L540.9 744.3 L542.9 744.9 L544.9 745.5 L546.8 746 L548.8 746.6 L550.7 747.1 L552.7 747.7 L554.6 748.2 L556.6 748.7 L558.5 749.2 L560.5 749.7 L562.5 750.2 L564.4 750.7 L566.4 751.2 L568.3 751.7 L570.3 752.2 L572.2 752.7 L574.2 753.1 L576.1 753.6 L578.1 754 L580 754.4 L582 754.9" stroke="#ff0000" stroke-width="2.4"/>
</g>
<line x1="73" y1="538" x2="584.3" y2="538" stroke="#000" stroke-width="4.6"/>
<line x1="73" y1="944" x2="584.3" y2="944" stroke="#000" stroke-width="4.6"/>
<line x1="75.3" y1="535.7" x2="75.3" y2="946.3" stroke="#000" stroke-width="4.6"/>
<line x1="582" y1="535.7" x2="582" y2="946.3" stroke="#000" stroke-width="4.6"/>
<path d="M75.3 898.2 H83.6 M75.3 808.2 H83.6 M75.3 718.2 H83.6 M75.3 628.2 H83.6" stroke="#000" stroke-width="4.2" fill="none"/>
<circle cx="77.6" cy="853.2" r="2.3" fill="#000"/>
<circle cx="77.6" cy="763.2" r="2.3" fill="#000"/>
<circle cx="77.6" cy="673.2" r="2.3" fill="#000"/>
<circle cx="77.6" cy="583.2" r="2.3" fill="#000"/>
<path d="M176.6 944 V935.7 M278 944 V935.7 M379.3 944 V935.7 M480.7 944 V935.7" stroke="#000" stroke-width="4.2" fill="none"/>
<circle cx="126" cy="941.7" r="2.3" fill="#000"/>
<circle cx="227.3" cy="941.7" r="2.3" fill="#000"/>
<circle cx="328.6" cy="941.7" r="2.3" fill="#000"/>
<circle cx="430" cy="941.7" r="2.3" fill="#000"/>
<circle cx="531.3" cy="941.7" r="2.3" fill="#000"/>
<text x="65.6" y="906.8" font-size="27.5" fill="#000" font-weight="bold" text-anchor="end" >0</text>
<text x="65.6" y="816.8" font-size="27.5" fill="#000" font-weight="bold" text-anchor="end" >1</text>
<text x="65.6" y="726.8" font-size="27.5" fill="#000" font-weight="bold" text-anchor="end" >2</text>
<text x="65.6" y="636.8" font-size="27.5" fill="#000" font-weight="bold" text-anchor="end" >3</text>
<text x="75.3" y="973.8" font-size="27.5" fill="#000" font-weight="bold" text-anchor="middle" >300</text>
<text x="176.6" y="973.8" font-size="27.5" fill="#000" font-weight="bold" text-anchor="middle" >400</text>
<text x="278" y="973.8" font-size="27.5" fill="#000" font-weight="bold" text-anchor="middle" >500</text>
<text x="379.3" y="973.8" font-size="27.5" fill="#000" font-weight="bold" text-anchor="middle" >600</text>
<text x="480.7" y="973.8" font-size="27.5" fill="#000" font-weight="bold" text-anchor="middle" >700</text>
<text x="582" y="973.8" font-size="27.5" fill="#000" font-weight="bold" text-anchor="middle" >800</text>
<text x="328.6" y="1006.5" font-size="27.2" fill="#000" font-weight="bold" text-anchor="middle" >Wavelength (nm)</text>
<g transform="translate(24 737) rotate(-90)"><text x="0" y="0" font-size="29" fill="#000" font-weight="bold" text-anchor="middle">Q<tspan font-size="21.5" dy="9.5">LSPR</tspan></text></g>
<circle cx="478.3" cy="562" r="4.6" fill="#ff3b3b"/>
<text x="493" y="571.6" font-size="26.5" fill="#ff1010" font-weight="normal" text-anchor="start" stroke="#ff1010" stroke-width="1.0" transform="translate(493 562) scale(1 1.04) translate(-493 -562)">800 <tspan stroke-width="0" font-size="30">°</tspan>C</text>
<circle cx="478.3" cy="598.5" r="4.6" fill="#1f9a55"/>
<text x="493" y="608.1" font-size="26.5" fill="#0a9441" font-weight="normal" text-anchor="start" stroke="#0a9441" stroke-width="1.0" transform="translate(493 598.5) scale(1 1.04) translate(-493 -598.5)">600 <tspan stroke-width="0" font-size="30">°</tspan>C</text>
<circle cx="478.3" cy="635" r="4.6" fill="#1f5fe0"/>
<text x="493" y="644.6" font-size="26.5" fill="#0050dd" font-weight="normal" text-anchor="start" stroke="#0050dd" stroke-width="1.0" transform="translate(493 635) scale(1 1.04) translate(-493 -635)">400 <tspan stroke-width="0" font-size="30">°</tspan>C</text>
<circle cx="478.3" cy="671.5" r="4.6" fill="#aa66e6"/>
<text x="493" y="681.1" font-size="26.5" fill="#a055e0" font-weight="normal" text-anchor="start" stroke="#a055e0" stroke-width="1.0" transform="translate(493 671.5) scale(1 1.04) translate(-493 -671.5)">200 <tspan stroke-width="0" font-size="30">°</tspan>C</text>
<circle cx="478.3" cy="708" r="4.6" fill="#4a4a4a"/>
<text x="493" y="717.6" font-size="26.5" fill="#333333" font-weight="normal" text-anchor="start" stroke="#333333" stroke-width="1.0" transform="translate(493 708) scale(1 1.04) translate(-493 -708)">RT</text>
<clipPath id="cd"><rect x="741.2" y="538.4" width="506" height="407.6"/></clipPath>
<g clip-path="url(#cd)" fill="none" stroke-linejoin="round">
<path d="M741.2 913.3 L743.2 913.2 L745.2 913.1 L747.2 913.1 L749.2 913 L751.2 912.9 L753.2 912.9 L755.1 912.9 L757.1 912.8 L759.1 912.8 L761.1 912.8 L763.1 912.8 L765.1 912.8 L767.1 912.9 L769.1 912.9 L771.1 912.9 L773.1 913 L775.1 913 L777.1 913.1 L779.1 913.1 L781 913.2 L783 913.3 L785 913.4 L787 913.5 L789 913.6 L791 913.7 L793 913.8 L795 913.9 L797 914.1 L799 914.2 L801 914.3 L803 914.5 L804.9 914.6 L806.9 914.8 L808.9 914.9 L810.9 915.1 L812.9 915.3 L814.9 915.5 L816.9 915.6 L818.9 915.8 L820.9 916 L822.9 916.2 L824.9 916.4 L826.9 916.6 L828.9 916.8 L830.8 917 L832.8 917.2 L834.8 917.5 L836.8 917.7 L838.8 917.9 L840.8 918.1 L842.8 918.4 L844.8 918.6 L846.8 918.8 L848.8 919 L850.8 919.3 L852.8 919.5 L854.8 919.8 L856.7 920 L858.7 920.2 L860.7 920.5 L862.7 920.7 L864.7 921 L866.7 921.2 L868.7 921.5 L870.7 921.7 L872.7 922 L874.7 922.2 L876.7 922.5 L878.7 922.7 L880.6 923 L882.6 923.2 L884.6 923.4 L886.6 923.7 L888.6 923.9 L890.6 924.2 L892.6 924.4 L894.6 924.7 L896.6 924.9 L898.6 925.1 L900.6 925.4 L902.6 925.6 L904.6 925.8 L906.5 926.1 L908.5 926.3 L910.5 926.5 L912.5 926.7 L914.5 926.9 L916.5 927.1 L918.5 927.4 L920.5 927.6 L922.5 927.8 L924.5 928 L926.5 928.2 L928.5 928.3 L930.5 928.5 L932.4 928.7 L934.4 928.9 L936.4 929.1 L938.4 929.2 L940.4 929.4 L942.4 929.6 L944.4 929.7 L946.4 929.8 L948.4 930 L950.4 930.1 L952.4 930.3 L954.4 930.4 L956.3 930.5 L958.3 930.6 L960.3 930.7 L962.3 930.8 L964.3 930.9 L966.3 931 L968.3 931.1 L970.3 931.1 L972.3 931.2 L974.3 931.3 L976.3 931.3 L978.3 931.4 L980.3 931.4 L982.2 931.5 L984.2 931.5 L986.2 931.6 L988.2 931.6 L990.2 931.6 L992.2 931.6 L994.2 931.6 L996.2 931.6 L998.2 931.7 L1000.2 931.7 L1002.2 931.6 L1004.2 931.6 L1006.2 931.6 L1008.1 931.6 L1010.1 931.6 L1012.1 931.6 L1014.1 931.5 L1016.1 931.5 L1018.1 931.5 L1020.1 931.4 L1022.1 931.4 L1024.1 931.3 L1026.1 931.3 L1028.1 931.2 L1030.1 931.2 L1032.1 931.1 L1034 931.1 L1036 931 L1038 930.9 L1040 930.9 L1042 930.8 L1044 930.7 L1046 930.6 L1048 930.5 L1050 930.5 L1052 930.4 L1054 930.3 L1056 930.2 L1057.9 930.1 L1059.9 930 L1061.9 929.9 L1063.9 929.8 L1065.9 929.7 L1067.9 929.6 L1069.9 929.5 L1071.9 929.4 L1073.9 929.3 L1075.9 929.2 L1077.9 929.1 L1079.9 928.9 L1081.9 928.8 L1083.8 928.7 L1085.8 928.6 L1087.8 928.5 L1089.8 928.4 L1091.8 928.2 L1093.8 928.1 L1095.8 928 L1097.8 927.9 L1099.8 927.8 L1101.8 927.6 L1103.8 927.5 L1105.8 927.4 L1107.8 927.3 L1109.7 927.1 L1111.7 927 L1113.7 926.9 L1115.7 926.8 L1117.7 926.6 L1119.7 926.5 L1121.7 926.4 L1123.7 926.3 L1125.7 926.2 L1127.7 926 L1129.7 925.9 L1131.7 925.8 L1133.6 925.7 L1135.6 925.6 L1137.6 925.4 L1139.6 925.3 L1141.6 925.2 L1143.6 925.1 L1145.6 925 L1147.6 924.9 L1149.6 924.8 L1151.6 924.6 L1153.6 924.5 L1155.6 924.4 L1157.6 924.3 L1159.5 924.2 L1161.5 924.1 L1163.5 924 L1165.5 923.9 L1167.5 923.8 L1169.5 923.7 L1171.5 923.6 L1173.5 923.6 L1175.5 923.5 L1177.5 923.4 L1179.5 923.3 L1181.5 923.2 L1183.5 923.2 L1185.4 923.1 L1187.4 923 L1189.4 922.9 L1191.4 922.9 L1193.4 922.8 L1195.4 922.8 L1197.4 922.7 L1199.4 922.7 L1201.4 922.6 L1203.4 922.6 L1205.4 922.5 L1207.4 922.5 L1209.3 922.5 L1211.3 922.4 L1213.3 922.4 L1215.3 922.4 L1217.3 922.4 L1219.3 922.3 L1221.3 922.3 L1223.3 922.3 L1225.3 922.3 L1227.3 922.3 L1229.3 922.3 L1231.3 922.4 L1233.3 922.4 L1235.2 922.4 L1237.2 922.4 L1239.2 922.5 L1241.2 922.5 L1243.2 922.5 L1245.2 922.6 L1247.2 922.6" stroke="#1a1a1a" stroke-width="2.4"/>
<path d="M741.2 901 L743.2 901.4 L745.2 901.9 L747.2 902.3 L749.2 902.8 L751.2 903.3 L753.2 903.8 L755.1 904.3 L757.1 904.9 L759.1 905.4 L761.1 906 L763.1 906.5 L765.1 907.1 L767.1 907.7 L769.1 908.3 L771.1 908.9 L773.1 909.5 L775.1 910.1 L777.1 910.7 L779.1 911.3 L781 912 L783 912.6 L785 913.2 L787 913.9 L789 914.5 L791 915.1 L793 915.7 L795 916.4 L797 917 L799 917.6 L801 918.2 L803 918.8 L804.9 919.4 L806.9 920 L808.9 920.6 L810.9 921.2 L812.9 921.8 L814.9 922.3 L816.9 922.9 L818.9 923.4 L820.9 923.9 L822.9 924.4 L824.9 924.9 L826.9 925.4 L828.9 925.9 L830.8 926.4 L832.8 926.8 L834.8 927.2 L836.8 927.6 L838.8 928 L840.8 928.4 L842.8 928.7 L844.8 929 L846.8 929.3 L848.8 929.6 L850.8 929.9 L852.8 930.1 L854.8 930.3 L856.7 930.5 L858.7 930.7 L860.7 930.8 L862.7 931 L864.7 931.1 L866.7 931.2 L868.7 931.3 L870.7 931.3 L872.7 931.3 L874.7 931.4 L876.7 931.4 L878.7 931.3 L880.6 931.3 L882.6 931.2 L884.6 931.2 L886.6 931.1 L888.6 931 L890.6 930.8 L892.6 930.7 L894.6 930.5 L896.6 930.3 L898.6 930.1 L900.6 929.9 L902.6 929.7 L904.6 929.4 L906.5 929.1 L908.5 928.8 L910.5 928.5 L912.5 928.2 L914.5 927.9 L916.5 927.5 L918.5 927.2 L920.5 926.8 L922.5 926.4 L924.5 925.9 L926.5 925.5 L928.5 925 L930.5 924.6 L932.4 924.1 L934.4 923.6 L936.4 923.1 L938.4 922.6 L940.4 922 L942.4 921.5 L944.4 920.9 L946.4 920.3 L948.4 919.7 L950.4 919.1 L952.4 918.4 L954.4 917.8 L956.3 917.1 L958.3 916.5 L960.3 915.8 L962.3 915.1 L964.3 914.4 L966.3 913.7 L968.3 912.9 L970.3 912.2 L972.3 911.4 L974.3 910.7 L976.3 909.9 L978.3 909.1 L980.3 908.3 L982.2 907.5 L984.2 906.7 L986.2 905.8 L988.2 905 L990.2 904.1 L992.2 903.3 L994.2 902.4 L996.2 901.5 L998.2 900.6 L1000.2 899.7 L1002.2 898.8 L1004.2 897.9 L1006.2 897 L1008.1 896.1 L1010.1 895.1 L1012.1 894.2 L1014.1 893.2 L1016.1 892.3 L1018.1 891.3 L1020.1 890.3 L1022.1 889.4 L1024.1 888.4 L1026.1 887.4 L1028.1 886.4 L1030.1 885.4 L1032.1 884.4 L1034 883.4 L1036 882.4 L1038 881.3 L1040 880.3 L1042 879.3 L1044 878.3 L1046 877.2 L1048 876.2 L1050 875.1 L1052 874.1 L1054 873 L1056 872 L1057.9 870.9 L1059.9 869.9 L1061.9 868.8 L1063.9 867.8 L1065.9 866.7 L1067.9 865.6 L1069.9 864.6 L1071.9 863.5 L1073.9 862.4 L1075.9 861.4 L1077.9 860.3 L1079.9 859.2 L1081.9 858.2 L1083.8 857.1 L1085.8 856 L1087.8 855 L1089.8 853.9 L1091.8 852.9 L1093.8 851.8 L1095.8 850.7 L1097.8 849.7 L1099.8 848.6 L1101.8 847.6 L1103.8 846.5 L1105.8 845.5 L1107.8 844.4 L1109.7 843.4 L1111.7 842.4 L1113.7 841.3 L1115.7 840.3 L1117.7 839.3 L1119.7 838.2 L1121.7 837.2 L1123.7 836.2 L1125.7 835.2 L1127.7 834.2 L1129.7 833.2 L1131.7 832.2 L1133.6 831.2 L1135.6 830.3 L1137.6 829.3 L1139.6 828.3 L1141.6 827.4 L1143.6 826.4 L1145.6 825.5 L1147.6 824.5 L1149.6 823.6 L1151.6 822.7 L1153.6 821.8 L1155.6 820.8 L1157.6 820 L1159.5 819.1 L1161.5 818.2 L1163.5 817.3 L1165.5 816.4 L1167.5 815.6 L1169.5 814.7 L1171.5 813.9 L1173.5 813.1 L1175.5 812.3 L1177.5 811.5 L1179.5 810.7 L1181.5 809.9 L1183.5 809.1 L1185.4 808.4 L1187.4 807.6 L1189.4 806.9 L1191.4 806.2 L1193.4 805.5 L1195.4 804.8 L1197.4 804.1 L1199.4 803.4 L1201.4 802.7 L1203.4 802.1 L1205.4 801.5 L1207.4 800.9 L1209.3 800.2 L1211.3 799.7 L1213.3 799.1 L1215.3 798.5 L1217.3 798 L1219.3 797.4 L1221.3 796.9 L1223.3 796.4 L1225.3 795.9 L1227.3 795.5 L1229.3 795 L1231.3 794.6 L1233.3 794.2 L1235.2 793.8 L1237.2 793.4 L1239.2 793 L1241.2 792.7 L1243.2 792.3 L1245.2 792 L1247.2 791.7" stroke="#a052e0" stroke-width="2.4"/>
<path d="M741.2 919.2 L743.2 919.3 L745.2 919.3 L747.2 919.4 L749.2 919.5 L751.2 919.6 L753.2 919.8 L755.1 920 L757.1 920.2 L759.1 920.4 L761.1 920.6 L763.1 920.9 L765.1 921.2 L767.1 921.5 L769.1 921.8 L771.1 922.1 L773.1 922.4 L775.1 922.8 L777.1 923.1 L779.1 923.5 L781 923.9 L783 924.3 L785 924.6 L787 925 L789 925.4 L791 925.8 L793 926.2 L795 926.6 L797 927 L799 927.4 L801 927.7 L803 928.1 L804.9 928.5 L806.9 928.8 L808.9 929.2 L810.9 929.5 L812.9 929.9 L814.9 930.2 L816.9 930.5 L818.9 930.7 L820.9 931 L822.9 931.2 L824.9 931.5 L826.9 931.7 L828.9 931.9 L830.8 932 L832.8 932.2 L834.8 932.3 L836.8 932.3 L838.8 932.4 L840.8 932.4 L842.8 932.4 L844.8 932.4 L846.8 932.3 L848.8 932.2 L850.8 932.1 L852.8 931.9 L854.8 931.7 L856.7 931.5 L858.7 931.2 L860.7 931 L862.7 930.7 L864.7 930.3 L866.7 930 L868.7 929.6 L870.7 929.1 L872.7 928.7 L874.7 928.2 L876.7 927.7 L878.7 927.2 L880.6 926.7 L882.6 926.1 L884.6 925.5 L886.6 924.9 L888.6 924.2 L890.6 923.5 L892.6 922.9 L894.6 922.1 L896.6 921.4 L898.6 920.6 L900.6 919.8 L902.6 919 L904.6 918.2 L906.5 917.4 L908.5 916.5 L910.5 915.6 L912.5 914.7 L914.5 913.8 L916.5 912.8 L918.5 911.9 L920.5 910.9 L922.5 909.9 L924.5 908.8 L926.5 907.8 L928.5 906.8 L930.5 905.7 L932.4 904.6 L934.4 903.5 L936.4 902.4 L938.4 901.2 L940.4 900.1 L942.4 898.9 L944.4 897.7 L946.4 896.5 L948.4 895.3 L950.4 894.1 L952.4 892.9 L954.4 891.6 L956.3 890.3 L958.3 889.1 L960.3 887.8 L962.3 886.5 L964.3 885.2 L966.3 883.8 L968.3 882.5 L970.3 881.2 L972.3 879.8 L974.3 878.4 L976.3 877.1 L978.3 875.7 L980.3 874.3 L982.2 872.9 L984.2 871.4 L986.2 870 L988.2 868.6 L990.2 867.1 L992.2 865.7 L994.2 864.2 L996.2 862.8 L998.2 861.3 L1000.2 859.8 L1002.2 858.3 L1004.2 856.8 L1006.2 855.4 L1008.1 853.9 L1010.1 852.3 L1012.1 850.8 L1014.1 849.3 L1016.1 847.8 L1018.1 846.3 L1020.1 844.7 L1022.1 843.2 L1024.1 841.7 L1026.1 840.1 L1028.1 838.6 L1030.1 837 L1032.1 835.5 L1034 833.9 L1036 832.4 L1038 830.8 L1040 829.3 L1042 827.7 L1044 826.2 L1046 824.6 L1048 823.1 L1050 821.5 L1052 819.9 L1054 818.4 L1056 816.8 L1057.9 815.3 L1059.9 813.7 L1061.9 812.2 L1063.9 810.6 L1065.9 809.1 L1067.9 807.6 L1069.9 806 L1071.9 804.5 L1073.9 803 L1075.9 801.4 L1077.9 799.9 L1079.9 798.4 L1081.9 796.9 L1083.8 795.4 L1085.8 793.9 L1087.8 792.4 L1089.8 790.9 L1091.8 789.4 L1093.8 787.9 L1095.8 786.5 L1097.8 785 L1099.8 783.5 L1101.8 782.1 L1103.8 780.7 L1105.8 779.2 L1107.8 777.8 L1109.7 776.4 L1111.7 775 L1113.7 773.6 L1115.7 772.2 L1117.7 770.8 L1119.7 769.5 L1121.7 768.1 L1123.7 766.8 L1125.7 765.4 L1127.7 764.1 L1129.7 762.8 L1131.7 761.5 L1133.6 760.2 L1135.6 758.9 L1137.6 757.7 L1139.6 756.4 L1141.6 755.2 L1143.6 754 L1145.6 752.8 L1147.6 751.6 L1149.6 750.4 L1151.6 749.2 L1153.6 748 L1155.6 746.9 L1157.6 745.7 L1159.5 744.6 L1161.5 743.5 L1163.5 742.3 L1165.5 741.2 L1167.5 740.1 L1169.5 739.1 L1171.5 738 L1173.5 736.9 L1175.5 735.8 L1177.5 734.8 L1179.5 733.7 L1181.5 732.7 L1183.5 731.7 L1185.4 730.6 L1187.4 729.6 L1189.4 728.6 L1191.4 727.6 L1193.4 726.6 L1195.4 725.6 L1197.4 724.6 L1199.4 723.6 L1201.4 722.6 L1203.4 721.6 L1205.4 720.6 L1207.4 719.7 L1209.3 718.7 L1211.3 717.7 L1213.3 716.8 L1215.3 715.8 L1217.3 714.8 L1219.3 713.9 L1221.3 712.9 L1223.3 712 L1225.3 711 L1227.3 710 L1229.3 709.1 L1231.3 708.1 L1233.3 707.2 L1235.2 706.2 L1237.2 705.3 L1239.2 704.3 L1241.2 703.3 L1243.2 702.4 L1245.2 701.4 L1247.2 700.5" stroke="#0045e6" stroke-width="2.4"/>
<path d="M741.2 919.8 L743.2 919.7 L745.2 919.6 L747.2 919.5 L749.2 919.4 L751.2 919.4 L753.2 919.5 L755.1 919.5 L757.1 919.6 L759.1 919.8 L761.1 919.9 L763.1 920.1 L765.1 920.3 L767.1 920.5 L769.1 920.8 L771.1 921.1 L773.1 921.4 L775.1 921.7 L777.1 922 L779.1 922.4 L781 922.7 L783 923.1 L785 923.5 L787 923.9 L789 924.2 L791 924.6 L793 925.1 L795 925.5 L797 925.9 L799 926.3 L801 926.7 L803 927.1 L804.9 927.5 L806.9 927.8 L808.9 928.2 L810.9 928.6 L812.9 928.9 L814.9 929.3 L816.9 929.6 L818.9 929.9 L820.9 930.2 L822.9 930.5 L824.9 930.7 L826.9 931 L828.9 931.2 L830.8 931.3 L832.8 931.5 L834.8 931.6 L836.8 931.7 L838.8 931.8 L840.8 931.8 L842.8 931.8 L844.8 931.7 L846.8 931.7 L848.8 931.5 L850.8 931.4 L852.8 931.2 L854.8 931 L856.7 930.7 L858.7 930.4 L860.7 930 L862.7 929.6 L864.7 929.2 L866.7 928.7 L868.7 928.2 L870.7 927.6 L872.7 927 L874.7 926.3 L876.7 925.6 L878.7 924.9 L880.6 924.1 L882.6 923.2 L884.6 922.3 L886.6 921.4 L888.6 920.4 L890.6 919.4 L892.6 918.3 L894.6 917.2 L896.6 916.1 L898.6 914.9 L900.6 913.7 L902.6 912.4 L904.6 911.1 L906.5 909.8 L908.5 908.5 L910.5 907.1 L912.5 905.7 L914.5 904.2 L916.5 902.7 L918.5 901.2 L920.5 899.7 L922.5 898.2 L924.5 896.6 L926.5 895 L928.5 893.3 L930.5 891.7 L932.4 890 L934.4 888.3 L936.4 886.6 L938.4 884.9 L940.4 883.2 L942.4 881.4 L944.4 879.7 L946.4 877.9 L948.4 876.1 L950.4 874.3 L952.4 872.5 L954.4 870.7 L956.3 868.9 L958.3 867 L960.3 865.2 L962.3 863.4 L964.3 861.5 L966.3 859.7 L968.3 857.8 L970.3 855.9 L972.3 854.1 L974.3 852.2 L976.3 850.3 L978.3 848.4 L980.3 846.5 L982.2 844.6 L984.2 842.8 L986.2 840.9 L988.2 838.9 L990.2 837 L992.2 835.1 L994.2 833.2 L996.2 831.3 L998.2 829.4 L1000.2 827.4 L1002.2 825.5 L1004.2 823.6 L1006.2 821.6 L1008.1 819.7 L1010.1 817.8 L1012.1 815.8 L1014.1 813.9 L1016.1 811.9 L1018.1 810 L1020.1 808 L1022.1 806.1 L1024.1 804.1 L1026.1 802.2 L1028.1 800.2 L1030.1 798.2 L1032.1 796.3 L1034 794.3 L1036 792.4 L1038 790.4 L1040 788.4 L1042 786.5 L1044 784.5 L1046 782.5 L1048 780.6 L1050 778.6 L1052 776.6 L1054 774.7 L1056 772.7 L1057.9 770.8 L1059.9 768.8 L1061.9 766.8 L1063.9 764.9 L1065.9 762.9 L1067.9 761 L1069.9 759 L1071.9 757 L1073.9 755.1 L1075.9 753.1 L1077.9 751.2 L1079.9 749.2 L1081.9 747.3 L1083.8 745.4 L1085.8 743.4 L1087.8 741.5 L1089.8 739.6 L1091.8 737.6 L1093.8 735.7 L1095.8 733.8 L1097.8 731.9 L1099.8 729.9 L1101.8 728 L1103.8 726.1 L1105.8 724.2 L1107.8 722.3 L1109.7 720.4 L1111.7 718.5 L1113.7 716.6 L1115.7 714.7 L1117.7 712.8 L1119.7 711 L1121.7 709.1 L1123.7 707.2 L1125.7 705.3 L1127.7 703.5 L1129.7 701.6 L1131.7 699.8 L1133.6 697.9 L1135.6 696 L1137.6 694.2 L1139.6 692.4 L1141.6 690.5 L1143.6 688.7 L1145.6 686.8 L1147.6 685 L1149.6 683.2 L1151.6 681.4 L1153.6 679.6 L1155.6 677.7 L1157.6 675.9 L1159.5 674.1 L1161.5 672.3 L1163.5 670.5 L1165.5 668.7 L1167.5 666.9 L1169.5 665.2 L1171.5 663.4 L1173.5 661.6 L1175.5 659.9 L1177.5 658.1 L1179.5 656.4 L1181.5 654.6 L1183.5 652.9 L1185.4 651.2 L1187.4 649.5 L1189.4 647.8 L1191.4 646.2 L1193.4 644.5 L1195.4 642.9 L1197.4 641.3 L1199.4 639.7 L1201.4 638.2 L1203.4 636.6 L1205.4 635.1 L1207.4 633.6 L1209.3 632.2 L1211.3 630.7 L1213.3 629.3 L1215.3 627.9 L1217.3 626.6 L1219.3 625.3 L1221.3 624 L1223.3 622.7 L1225.3 621.5 L1227.3 620.3 L1229.3 619.2 L1231.3 618.1 L1233.3 617 L1235.2 616 L1237.2 615 L1239.2 614.1 L1241.2 613.2 L1243.2 612.3 L1245.2 611.5 L1247.2 610.7" stroke="#0a9441" stroke-width="2.4"/>
<path d="M741.2 921.8 L743.2 921.7 L745.2 921.6 L747.2 921.6 L749.2 921.6 L751.2 921.7 L753.2 921.7 L755.1 921.8 L757.1 922 L759.1 922.1 L761.1 922.3 L763.1 922.5 L765.1 922.7 L767.1 922.9 L769.1 923.2 L771.1 923.4 L773.1 923.7 L775.1 924 L777.1 924.3 L779.1 924.6 L781 924.9 L783 925.2 L785 925.5 L787 925.9 L789 926.2 L791 926.5 L793 926.9 L795 927.2 L797 927.5 L799 927.9 L801 928.2 L803 928.5 L804.9 928.8 L806.9 929.1 L808.9 929.4 L810.9 929.7 L812.9 929.9 L814.9 930.1 L816.9 930.4 L818.9 930.6 L820.9 930.8 L822.9 930.9 L824.9 931.1 L826.9 931.2 L828.9 931.3 L830.8 931.3 L832.8 931.3 L834.8 931.3 L836.8 931.3 L838.8 931.2 L840.8 931.1 L842.8 931 L844.8 930.8 L846.8 930.6 L848.8 930.4 L850.8 930.1 L852.8 929.8 L854.8 929.4 L856.7 929 L858.7 928.5 L860.7 928 L862.7 927.4 L864.7 926.8 L866.7 926.1 L868.7 925.4 L870.7 924.6 L872.7 923.7 L874.7 922.9 L876.7 921.9 L878.7 920.9 L880.6 919.9 L882.6 918.8 L884.6 917.6 L886.6 916.4 L888.6 915.2 L890.6 913.9 L892.6 912.6 L894.6 911.2 L896.6 909.8 L898.6 908.4 L900.6 906.9 L902.6 905.4 L904.6 903.8 L906.5 902.2 L908.5 900.6 L910.5 898.9 L912.5 897.2 L914.5 895.5 L916.5 893.7 L918.5 891.9 L920.5 890.1 L922.5 888.3 L924.5 886.4 L926.5 884.5 L928.5 882.6 L930.5 880.6 L932.4 878.7 L934.4 876.7 L936.4 874.7 L938.4 872.7 L940.4 870.6 L942.4 868.6 L944.4 866.5 L946.4 864.4 L948.4 862.3 L950.4 860.2 L952.4 858.1 L954.4 856 L956.3 853.8 L958.3 851.7 L960.3 849.5 L962.3 847.3 L964.3 845.1 L966.3 842.9 L968.3 840.7 L970.3 838.5 L972.3 836.2 L974.3 834 L976.3 831.7 L978.3 829.5 L980.3 827.2 L982.2 824.9 L984.2 822.6 L986.2 820.3 L988.2 818 L990.2 815.7 L992.2 813.4 L994.2 811.1 L996.2 808.8 L998.2 806.5 L1000.2 804.1 L1002.2 801.8 L1004.2 799.5 L1006.2 797.1 L1008.1 794.8 L1010.1 792.4 L1012.1 790.1 L1014.1 787.7 L1016.1 785.4 L1018.1 783 L1020.1 780.7 L1022.1 778.3 L1024.1 776 L1026.1 773.6 L1028.1 771.2 L1030.1 768.9 L1032.1 766.5 L1034 764.2 L1036 761.8 L1038 759.5 L1040 757.1 L1042 754.8 L1044 752.5 L1046 750.1 L1048 747.8 L1050 745.5 L1052 743.2 L1054 740.8 L1056 738.5 L1057.9 736.2 L1059.9 733.9 L1061.9 731.6 L1063.9 729.3 L1065.9 727 L1067.9 724.8 L1069.9 722.5 L1071.9 720.2 L1073.9 717.9 L1075.9 715.7 L1077.9 713.4 L1079.9 711.2 L1081.9 709 L1083.8 706.7 L1085.8 704.5 L1087.8 702.3 L1089.8 700.1 L1091.8 697.9 L1093.8 695.7 L1095.8 693.6 L1097.8 691.4 L1099.8 689.2 L1101.8 687.1 L1103.8 684.9 L1105.8 682.8 L1107.8 680.7 L1109.7 678.6 L1111.7 676.5 L1113.7 674.4 L1115.7 672.3 L1117.7 670.2 L1119.7 668.1 L1121.7 666.1 L1123.7 664 L1125.7 661.9 L1127.7 659.9 L1129.7 657.9 L1131.7 655.8 L1133.6 653.8 L1135.6 651.8 L1137.6 649.8 L1139.6 647.8 L1141.6 645.8 L1143.6 643.8 L1145.6 641.8 L1147.6 639.8 L1149.6 637.9 L1151.6 635.9 L1153.6 634 L1155.6 632 L1157.6 630.1 L1159.5 628.1 L1161.5 626.2 L1163.5 624.3 L1165.5 622.3 L1167.5 620.4 L1169.5 618.5 L1171.5 616.6 L1173.5 614.7 L1175.5 612.9 L1177.5 611 L1179.5 609.1 L1181.5 607.3 L1183.5 605.4 L1185.4 603.6 L1187.4 601.8 L1189.4 600 L1191.4 598.2 L1193.4 596.5 L1195.4 594.7 L1197.4 593 L1199.4 591.3 L1201.4 589.6 L1203.4 587.9 L1205.4 586.3 L1207.4 584.6 L1209.3 583 L1211.3 581.4 L1213.3 579.9 L1215.3 578.3 L1217.3 576.8 L1219.3 575.3 L1221.3 573.9 L1223.3 572.4 L1225.3 571 L1227.3 569.6 L1229.3 568.3 L1231.3 567 L1233.3 565.7 L1235.2 564.4 L1237.2 563.2 L1239.2 562 L1241.2 560.8 L1243.2 559.7 L1245.2 558.6 L1247.2 557.6" stroke="#ff0000" stroke-width="2.4"/>
</g>
<line x1="738.9" y1="538.4" x2="1249.5" y2="538.4" stroke="#000" stroke-width="4.6"/>
<line x1="738.9" y1="946" x2="1249.5" y2="946" stroke="#000" stroke-width="4.6"/>
<line x1="741.2" y1="536.1" x2="741.2" y2="948.3" stroke="#000" stroke-width="4.6"/>
<line x1="1247.2" y1="536.1" x2="1247.2" y2="948.3" stroke="#000" stroke-width="4.6"/>
<path d="M741.2 932.2 H749.5 M741.2 861.9 H749.5 M741.2 791.6 H749.5 M741.2 721.3 H749.5 M741.2 651 H749.5 M741.2 580.7 H749.5" stroke="#000" stroke-width="4.2" fill="none"/>
<circle cx="743.5" cy="897.1" r="2.3" fill="#000"/>
<circle cx="743.5" cy="826.8" r="2.3" fill="#000"/>
<circle cx="743.5" cy="756.5" r="2.3" fill="#000"/>
<circle cx="743.5" cy="686.2" r="2.3" fill="#000"/>
<circle cx="743.5" cy="615.9" r="2.3" fill="#000"/>
<circle cx="743.5" cy="545.5" r="2.3" fill="#000"/>
<path d="M842.4 946 V937.7 M943.6 946 V937.7 M1044.8 946 V937.7 M1146 946 V937.7" stroke="#000" stroke-width="4.2" fill="none"/>
<circle cx="791.8" cy="943.7" r="2.3" fill="#000"/>
<circle cx="893" cy="943.7" r="2.3" fill="#000"/>
<circle cx="994.2" cy="943.7" r="2.3" fill="#000"/>
<circle cx="1095.4" cy="943.7" r="2.3" fill="#000"/>
<circle cx="1196.6" cy="943.7" r="2.3" fill="#000"/>
<text x="731.8" y="940.8" font-size="27.5" fill="#000" font-weight="bold" text-anchor="end" >0</text>
<text x="731.8" y="870.5" font-size="27.5" fill="#000" font-weight="bold" text-anchor="end" >5</text>
<text x="731.8" y="800.2" font-size="27.5" fill="#000" font-weight="bold" text-anchor="end" >10</text>
<text x="731.8" y="729.9" font-size="27.5" fill="#000" font-weight="bold" text-anchor="end" >15</text>
<text x="731.8" y="659.6" font-size="27.5" fill="#000" font-weight="bold" text-anchor="end" >20</text>
<text x="731.8" y="589.3" font-size="27.5" fill="#000" font-weight="bold" text-anchor="end" >25</text>
<text x="741.2" y="976" font-size="27.5" fill="#000" font-weight="bold" text-anchor="middle" >300</text>
<text x="842.4" y="976" font-size="27.5" fill="#000" font-weight="bold" text-anchor="middle" >400</text>
<text x="943.6" y="976" font-size="27.5" fill="#000" font-weight="bold" text-anchor="middle" >500</text>
<text x="1044.8" y="976" font-size="27.5" fill="#000" font-weight="bold" text-anchor="middle" >600</text>
<text x="1146" y="976" font-size="27.5" fill="#000" font-weight="bold" text-anchor="middle" >700</text>
<text x="1247.2" y="976" font-size="27.5" fill="#000" font-weight="bold" text-anchor="middle" >800</text>
<text x="994.2" y="1011.2" font-size="27.2" fill="#000" font-weight="bold" text-anchor="middle" >Wavelength (nm)</text>
<g transform="translate(680 742) rotate(-90)"><text x="0" y="0" font-size="29" fill="#000" font-weight="bold" text-anchor="middle">Q<tspan font-size="21.5" dy="9.5">SPP</tspan></text></g>
<circle cx="765.9" cy="562.3" r="4.6" fill="#ff3b3b"/>
<text x="780.4" y="571.9" font-size="26.5" fill="#ff1010" font-weight="normal" text-anchor="start" stroke="#ff1010" stroke-width="1.0" transform="translate(780.4 562.3) scale(1 1.04) translate(-780.4 -562.3)">800 <tspan stroke-width="0" font-size="30">°</tspan>C</text>
<circle cx="765.9" cy="599.6" r="4.6" fill="#1f9a55"/>
<text x="780.4" y="609.2" font-size="26.5" fill="#0a9441" font-weight="normal" text-anchor="start" stroke="#0a9441" stroke-width="1.0" transform="translate(780.4 599.6) scale(1 1.04) translate(-780.4 -599.6)">600 <tspan stroke-width="0" font-size="30">°</tspan>C</text>
<circle cx="765.9" cy="635.9" r="4.6" fill="#1f5fe0"/>
<text x="780.4" y="645.5" font-size="26.5" fill="#0050dd" font-weight="normal" text-anchor="start" stroke="#0050dd" stroke-width="1.0" transform="translate(780.4 635.9) scale(1 1.04) translate(-780.4 -635.9)">400 <tspan stroke-width="0" font-size="30">°</tspan>C</text>
<circle cx="765.9" cy="672.2" r="4.6" fill="#aa66e6"/>
<text x="780.4" y="681.8" font-size="26.5" fill="#a055e0" font-weight="normal" text-anchor="start" stroke="#a055e0" stroke-width="1.0" transform="translate(780.4 672.2) scale(1 1.04) translate(-780.4 -672.2)">200 <tspan stroke-width="0" font-size="30">°</tspan>C</text>
<circle cx="765.9" cy="708.5" r="4.6" fill="#4a4a4a"/>
<text x="780.4" y="718.1" font-size="26.5" fill="#333333" font-weight="normal" text-anchor="start" stroke="#333333" stroke-width="1.0" transform="translate(780.4 708.5) scale(1 1.04) translate(-780.4 -708.5)">RT</text>
</svg></body></html>
